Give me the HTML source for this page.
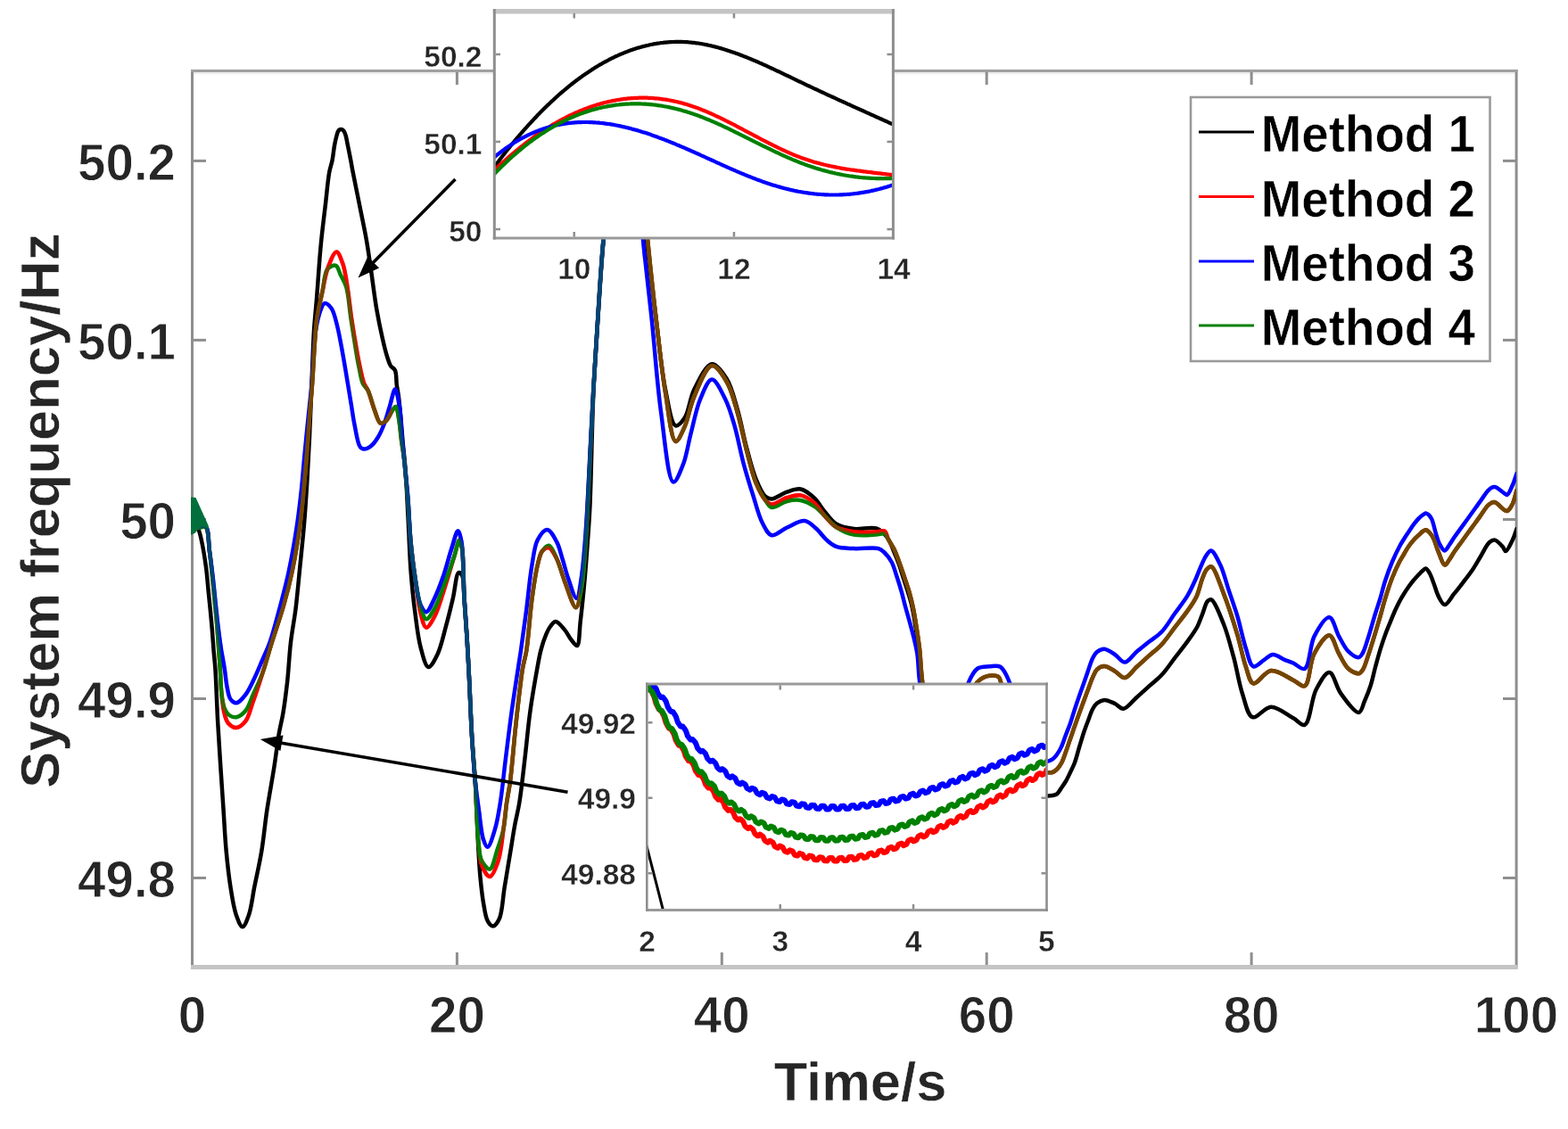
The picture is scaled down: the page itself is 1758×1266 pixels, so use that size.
<!DOCTYPE html><html><head><meta charset="utf-8"><title>System frequency</title>
<style>html,body{margin:0;padding:0;background:#fff;}svg{display:block;}text{font-family:'Liberation Sans', Arial, Helvetica, sans-serif;font-weight:bold;}</style></head><body>
<svg xmlns="http://www.w3.org/2000/svg" width="1758" height="1266" viewBox="0 0 1758 1266">
<rect x="0" y="0" width="1758" height="1266" fill="#fff"/>
<defs>
<clipPath id="cm"><rect x="214.0" y="79.5" width="1486.0" height="1005.0"/></clipPath>
<clipPath id="c1"><rect x="554.5" y="12.5" width="446.5" height="255"/></clipPath>
<clipPath id="c2"><rect x="725.5" y="767" width="448" height="253.5"/></clipPath>
<clipPath id="ovR"><rect x="250" y="0" width="190" height="1266"/><rect x="540" y="0" width="110" height="1266"/><rect x="721" y="0" width="1040" height="1266"/></clipPath>
<clipPath id="ovB"><rect x="200" y="0" width="50" height="1266"/><rect x="440" y="0" width="100" height="1266"/><rect x="650" y="0" width="71" height="1266"/></clipPath>
</defs>
<g fill="#8e8e8e">
<rect x="214" y="78.0" width="3" height="1008.0"/>
<rect x="1698.6" y="78.0" width="3" height="1008.0"/>
</g>
<rect x="214" y="77.9" width="1487.6" height="3.2" fill="#a0a0a0"/>
<rect x="217" y="81.1" width="1481" height="2.2" fill="#eeeeee"/>
<rect x="214" y="1082" width="1487.6" height="5" fill="#c4c4c4"/>
<g fill="#8e8e8e">
<rect x="217" y="178.9" width="14" height="3"/>
<rect x="1685" y="178.9" width="14" height="3"/>
<rect x="217" y="379.9" width="14" height="3"/>
<rect x="1685" y="379.9" width="14" height="3"/>
<rect x="217" y="581.0" width="14" height="3"/>
<rect x="1685" y="581.0" width="14" height="3"/>
<rect x="217" y="782.0" width="14" height="3"/>
<rect x="1685" y="782.0" width="14" height="3"/>
<rect x="217" y="983.0" width="14" height="3"/>
<rect x="1685" y="983.0" width="14" height="3"/>
<rect x="510.9" y="1068" width="3" height="14"/>
<rect x="510.9" y="81" width="3" height="14"/>
<rect x="807.8" y="1068" width="3" height="14"/>
<rect x="807.8" y="81" width="3" height="14"/>
<rect x="1104.7" y="1068" width="3" height="14"/>
<rect x="1104.7" y="81" width="3" height="14"/>
<rect x="1401.6" y="1068" width="3" height="14"/>
<rect x="1401.6" y="81" width="3" height="14"/>
</g>
<g clip-path="url(#cm)" fill="none" stroke-linejoin="round" stroke-linecap="round">
<path d="M215.5,590.0 C216.7,590.0 217.9,589.5 219.0,590.0 C220.3,590.6 221.6,592.2 222.6,594.2 C224.3,597.4 225.2,602.8 226.4,608.4 C228.1,616.2 229.8,627.3 231.1,636.8 C232.3,646.2 232.9,655.3 233.9,665.2 C235.0,676.2 236.3,688.8 237.3,700.0 C238.2,710.4 238.9,721.0 239.6,730.0 C240.2,737.3 240.8,741.5 241.4,750.0 C242.4,764.6 243.0,787.6 244.2,810.0 C245.8,838.6 248.7,880.7 250.5,907.4 C251.7,926.0 252.3,939.7 253.7,954.8 C255.0,968.6 256.4,981.9 258.4,994.3 C260.2,1005.5 261.9,1017.8 264.8,1025.9 C266.8,1031.5 269.5,1039.3 271.9,1039.3 C274.3,1039.3 277.0,1031.5 279.0,1025.9 C281.9,1017.8 283.1,1005.4 285.3,994.3 C287.8,981.9 290.9,968.6 293.2,954.8 C295.7,939.8 297.1,923.2 299.5,907.4 C301.9,891.6 305.1,874.9 307.4,860.0 C309.5,846.8 310.9,833.4 312.8,822.4 C314.3,813.8 316.0,808.0 317.4,799.6 C319.1,789.4 320.6,777.7 322.0,765.5 C323.6,751.4 324.3,734.5 326.0,720.0 C327.6,706.7 329.9,695.4 331.6,682.0 C333.4,667.1 334.8,650.6 336.4,634.8 C338.0,619.0 339.7,603.2 341.0,587.4 C342.3,571.6 343.3,556.0 344.3,540.0 C345.3,523.6 346.2,507.4 347.0,490.0 C347.9,470.9 348.7,449.9 349.5,430.0 C350.3,410.3 350.9,388.5 352.0,371.0 C352.9,356.9 354.2,346.1 355.2,333.0 C356.3,319.1 357.4,301.8 358.4,290.0 C359.1,281.7 359.5,276.9 360.3,268.9 C361.4,258.1 363.2,243.6 364.7,231.0 C366.2,218.4 367.5,202.5 369.2,193.2 C370.2,187.6 371.5,184.8 372.5,180.0 C373.6,174.5 374.2,167.1 375.2,162.0 C375.9,158.2 376.7,154.8 377.5,152.0 C378.1,149.9 378.5,147.7 379.5,146.5 C380.2,145.6 381.4,145.0 382.3,145.0 C383.3,145.0 384.4,145.6 385.2,146.5 C386.3,147.7 386.9,149.9 387.6,152.0 C388.5,154.8 388.9,158.2 389.7,162.0 C390.8,167.1 392.2,174.5 393.3,180.0 C394.2,184.7 394.6,187.7 395.7,193.2 C397.5,202.6 400.8,218.4 403.3,231.0 C405.8,243.6 408.7,256.7 410.8,268.9 C412.8,280.2 414.1,289.9 415.8,301.6 C417.8,315.2 419.8,332.3 422.1,345.8 C424.1,357.2 426.2,367.8 428.4,377.4 C430.2,385.6 432.2,394.0 434.1,400.0 C435.4,404.1 436.2,407.4 437.9,410.1 C439.3,412.3 441.7,412.7 442.9,415.2 C444.7,418.9 444.1,426.4 444.8,431.6 C445.5,436.3 446.3,439.8 447.0,445.0 C447.9,452.0 448.7,461.7 449.5,470.0 C450.2,478.3 450.8,486.7 451.5,495.0 C452.3,503.3 453.3,511.3 454.0,520.0 C454.8,529.5 455.4,539.3 456.0,550.0 C456.7,562.4 457.3,576.0 458.0,590.0 C458.8,605.5 459.3,622.8 460.5,639.0 C461.7,654.9 463.3,671.3 465.3,686.3 C467.1,700.1 468.6,714.7 471.6,725.8 C473.9,734.4 476.8,747.5 480.3,747.9 C483.3,748.3 487.6,739.7 490.5,733.7 C494.5,725.5 497.1,712.7 500.0,702.1 C502.9,691.6 505.5,680.8 507.9,670.5 C510.2,660.8 511.4,643.1 514.2,642.1 C515.3,641.7 517.0,643.2 518.0,645.0 C520.3,649.1 519.7,660.7 520.5,670.5 C521.6,683.9 522.8,702.7 523.7,718.0 C524.6,732.4 525.2,744.4 526.0,760.0 C527.0,779.5 527.9,805.3 529.1,825.8 C530.2,843.8 532.0,862.6 532.8,876.3 C533.4,885.7 533.5,890.7 533.9,900.0 C534.5,913.1 535.3,932.7 536.1,947.4 C536.8,960.1 537.4,971.6 538.4,982.9 C539.4,993.3 540.4,1003.7 542.0,1012.6 C543.3,1020.0 544.2,1028.2 546.7,1032.7 C548.3,1035.6 550.7,1038.7 552.7,1038.6 C555.0,1038.5 557.9,1034.4 559.8,1030.3 C563.3,1022.9 563.7,1006.6 565.7,994.8 C567.7,982.9 569.6,971.1 571.6,959.2 C573.6,947.4 575.5,934.3 577.5,923.7 C579.1,915.0 580.8,909.4 582.3,900.0 C584.5,886.6 586.5,867.5 588.4,851.0 C590.4,834.2 591.9,816.3 594.1,800.0 C596.1,785.0 598.7,769.8 601.0,756.9 C602.9,746.4 604.4,736.6 606.6,728.4 C608.3,721.9 610.3,716.1 612.3,711.4 C613.8,707.9 615.1,705.0 617.0,702.5 C618.7,700.3 620.7,697.0 623.0,697.0 C626.0,697.0 630.2,702.9 633.2,706.4 C636.1,709.9 638.1,714.7 640.7,717.8 C642.8,720.3 645.4,724.6 647.0,724.1 C649.8,723.1 649.5,707.0 650.8,696.3 C652.5,682.0 654.5,661.4 655.9,645.8 C657.1,632.3 657.9,620.5 658.8,607.9 C659.7,595.3 660.5,586.5 661.3,570.0 C662.8,539.2 663.6,478.3 665.5,437.0 C667.2,401.0 669.7,366.2 671.8,335.8 C673.5,310.8 674.4,293.4 676.8,267.6 C679.9,233.7 683.2,178.6 690.0,150.0 C694.1,132.8 700.9,109.6 705.0,110.0 C709.9,110.4 712.9,147.5 716.0,170.0 C719.9,198.5 721.3,235.5 724.7,267.6 C728.0,299.1 732.3,331.5 736.0,361.0 C739.4,387.6 741.7,415.8 746.1,437.0 C749.3,452.7 752.3,475.8 757.5,477.3 C760.5,478.2 764.8,472.7 767.8,468.2 C772.4,461.3 773.3,446.8 778.2,436.9 C783.3,426.7 791.5,408.8 798.2,408.2 C803.7,407.7 810.2,417.5 814.7,424.7 C820.4,433.7 823.3,447.2 826.9,459.5 C830.9,473.1 833.6,489.3 837.3,502.9 C840.6,515.2 843.7,528.0 847.7,537.7 C850.8,545.2 854.3,553.5 858.1,556.8 C860.3,558.7 862.3,559.5 865.1,559.4 C869.6,559.3 876.8,553.4 882.5,551.6 C887.6,549.9 892.8,547.6 897.7,548.5 C903.1,549.5 908.8,554.6 913.2,558.7 C917.6,562.8 920.2,568.4 924.2,573.1 C928.3,578.0 932.1,584.1 937.5,587.4 C943.1,590.8 950.3,592.1 957.4,593.0 C965.3,594.0 976.4,590.2 983.0,592.6 C988.2,594.5 991.8,598.8 995.0,603.0 C998.2,607.3 999.8,613.0 1002.0,618.0 C1004.2,623.0 1006.2,627.9 1008.0,633.0 C1009.8,638.1 1011.3,643.4 1013.0,648.6 C1014.7,653.8 1016.4,658.8 1018.0,664.0 C1019.6,669.3 1021.2,674.3 1022.5,680.2 C1024.1,687.1 1025.3,695.3 1026.5,703.0 C1027.8,711.0 1028.9,718.3 1030.0,727.5 C1031.3,739.1 1031.5,752.4 1033.5,767.0 C1036.0,785.6 1035.8,814.0 1045.0,830.0 C1052.8,843.6 1066.5,851.8 1080.0,860.0 C1094.6,868.8 1115.5,874.0 1130.0,880.0 C1141.3,884.7 1151.8,891.5 1160.0,893.0 C1165.2,894.0 1169.7,892.7 1173.4,892.5 C1176.0,892.4 1178.0,892.4 1180.0,892.0 C1181.8,891.6 1183.5,891.5 1185.0,890.4 C1186.9,889.0 1188.4,885.9 1190.0,883.5 C1191.7,881.1 1193.4,878.7 1195.0,876.0 C1196.8,873.0 1198.4,869.4 1200.0,866.0 C1201.7,862.4 1203.5,859.1 1205.0,855.0 C1206.9,850.0 1208.3,843.6 1210.0,838.0 C1211.7,832.5 1213.3,826.9 1215.0,821.7 C1216.6,816.9 1218.3,812.5 1220.0,808.0 C1221.6,803.7 1223.1,798.7 1225.0,795.2 C1226.5,792.5 1227.9,790.3 1230.0,788.6 C1232.2,786.8 1235.0,785.1 1238.0,784.9 C1241.6,784.7 1246.3,787.3 1250.0,789.0 C1253.4,790.6 1256.1,795.1 1259.5,794.8 C1264.0,794.4 1269.4,786.4 1274.2,782.2 C1279.0,778.0 1283.7,773.7 1288.4,769.4 C1293.2,765.1 1298.2,761.5 1302.7,756.6 C1307.7,751.2 1312.2,744.3 1316.9,738.1 C1321.6,731.9 1326.7,725.7 1331.1,719.6 C1335.2,713.9 1339.6,708.1 1342.5,702.5 C1345.0,697.7 1346.3,693.0 1348.2,688.3 C1350.1,683.6 1351.6,676.5 1353.9,674.1 C1355.1,672.8 1356.5,671.8 1358.0,672.3 C1361.9,673.7 1367.9,689.8 1372.0,700.0 C1376.6,711.5 1379.9,725.1 1383.4,737.9 C1386.9,751.0 1389.0,765.9 1392.9,777.7 C1396.2,787.6 1398.5,802.2 1404.3,804.2 C1409.6,806.0 1417.8,792.9 1425.1,792.8 C1433.0,792.7 1443.1,801.6 1450.0,805.3 C1455.0,808.0 1459.2,814.2 1462.8,812.8 C1468.9,810.5 1470.1,783.7 1475.6,773.3 C1479.8,765.3 1486.0,753.7 1490.5,754.1 C1495.3,754.5 1498.0,770.3 1503.3,777.6 C1508.9,785.3 1519.0,799.6 1523.6,798.9 C1526.8,798.4 1527.9,790.7 1530.0,786.0 C1532.3,780.7 1534.7,774.8 1536.7,768.7 C1538.8,762.2 1540.2,754.8 1542.0,748.0 C1543.8,741.4 1545.6,734.6 1547.5,728.4 C1549.3,722.7 1551.1,717.1 1553.0,712.0 C1554.7,707.3 1556.4,703.2 1558.2,698.8 C1559.9,694.5 1561.7,690.1 1563.5,686.0 C1565.3,682.1 1567.1,678.1 1569.0,674.6 C1570.6,671.5 1572.2,668.8 1574.0,666.0 C1575.8,663.1 1577.9,660.0 1579.8,657.3 C1581.5,654.9 1583.2,652.7 1585.0,650.5 C1586.8,648.3 1589.0,646.0 1590.8,644.1 C1592.3,642.6 1593.6,641.2 1595.0,640.0 C1596.2,639.0 1597.4,637.2 1598.6,637.4 C1600.1,637.6 1601.7,640.7 1603.0,643.0 C1604.7,646.0 1605.9,650.0 1607.4,654.0 C1609.2,658.6 1610.7,664.9 1613.0,669.1 C1614.9,672.7 1617.2,678.0 1619.8,678.1 C1622.8,678.2 1626.7,670.3 1630.0,666.2 C1633.4,662.1 1636.7,657.8 1640.0,653.5 C1643.4,649.2 1646.8,645.0 1650.0,640.3 C1653.5,635.2 1656.7,629.4 1660.0,624.0 C1663.3,618.6 1666.6,610.8 1670.0,608.0 C1672.0,606.3 1674.0,605.2 1676.1,605.6 C1679.0,606.1 1683.0,611.2 1685.1,613.6 C1686.5,615.2 1686.9,618.1 1688.1,618.1 C1690.1,618.1 1693.5,610.3 1695.6,606.1 C1697.7,601.9 1698.9,597.4 1700.5,593.0" stroke="#000" stroke-width="4.5"/>
<path d="M215.5,592.0 C217.7,592.0 219.7,592.1 222.0,592.0 C224.6,591.8 228.4,589.4 230.5,591.0 C234.3,593.8 233.7,608.9 234.9,618.0 C236.2,627.2 237.0,636.6 238.0,646.0 C239.0,655.5 239.9,665.4 240.8,674.7 C241.6,683.4 242.5,691.2 243.2,700.0 C244.0,709.6 244.6,721.0 245.3,730.0 C245.8,737.3 246.3,742.7 246.8,750.0 C247.4,759.0 247.6,771.0 248.5,780.0 C249.3,787.4 250.0,794.4 251.5,800.0 C252.7,804.3 253.6,808.3 256.0,811.0 C258.2,813.5 262.0,816.2 265.0,816.0 C268.4,815.8 272.5,812.3 275.3,808.7 C279.0,803.9 280.5,795.8 283.3,788.0 C286.9,778.1 291.0,765.4 294.6,754.0 C298.2,742.7 301.2,731.8 304.9,720.0 C309.0,707.0 314.2,692.5 318.0,679.0 C321.7,666.2 324.6,654.8 327.5,641.0 C330.9,624.7 334.3,603.7 336.5,587.4 C338.4,573.8 339.3,562.3 340.5,550.0 C341.6,538.1 342.6,526.6 343.5,515.0 C344.4,503.6 345.2,491.5 346.0,480.9 C346.7,471.7 347.3,463.6 348.0,455.0 C348.7,446.6 349.3,440.5 350.1,430.0 C351.5,412.3 352.6,377.4 355.2,358.4 C356.9,345.7 359.4,336.7 361.5,326.8 C363.4,317.9 364.4,309.2 367.2,301.6 C369.8,294.6 374.2,282.6 377.3,282.6 C379.8,282.6 382.3,290.2 384.2,295.3 C386.7,302.1 387.8,311.2 389.3,320.5 C391.2,331.8 392.4,345.8 394.3,358.4 C396.2,371.0 398.8,386.3 400.6,396.3 C401.8,402.9 402.6,407.1 403.8,412.6 C405.1,418.3 406.4,425.4 408.2,430.0 C409.5,433.2 411.1,434.5 412.6,437.9 C415.0,443.4 417.6,454.0 420.2,460.6 C422.3,465.9 423.8,473.4 426.5,474.5 C428.3,475.2 430.9,473.6 432.8,472.0 C435.7,469.6 438.2,462.2 440.4,459.4 C441.6,457.8 442.8,455.7 443.8,456.0 C445.6,456.5 446.5,466.2 447.5,472.0 C448.7,478.9 449.2,487.7 450.2,495.0 C451.1,501.6 452.2,507.2 453.0,514.0 C453.9,521.8 454.6,531.0 455.3,539.0 C456.0,546.3 456.6,551.6 457.3,560.0 C458.3,572.6 459.1,592.3 460.5,607.4 C461.8,621.2 463.5,633.5 465.3,646.8 C467.2,660.4 468.8,677.6 471.6,688.0 C473.4,694.6 475.2,703.3 477.9,703.7 C480.5,704.0 484.4,696.6 487.4,691.0 C492.0,682.3 496.2,666.4 500.0,654.7 C503.5,643.9 506.7,632.1 509.5,623.2 C511.6,616.5 513.4,605.8 515.0,605.8 C516.1,605.8 517.2,610.6 518.0,615.0 C519.9,625.6 519.5,652.7 520.5,670.5 C521.4,687.0 522.8,702.7 523.7,718.0 C524.6,732.4 525.2,744.4 526.0,760.0 C527.0,779.5 527.9,805.3 529.1,825.8 C530.2,843.8 531.9,861.2 532.8,876.3 C533.6,888.7 533.9,898.7 534.5,910.0 C535.1,921.6 535.5,934.3 536.5,945.0 C537.4,954.1 537.4,963.3 540.0,970.0 C542.1,975.3 546.2,983.2 549.1,983.0 C552.4,982.8 556.2,972.4 558.6,965.2 C561.9,955.6 562.9,940.9 564.5,929.6 C566.0,919.3 566.8,909.3 568.1,900.0 C569.3,891.6 570.7,886.1 572.0,876.3 C574.1,860.3 576.0,834.2 578.3,813.2 C580.6,792.1 583.4,765.1 585.9,750.0 C587.3,741.4 588.8,738.5 590.2,730.0 C592.5,715.6 594.1,688.5 596.5,671.0 C598.4,657.0 600.4,642.9 602.8,633.2 C604.4,626.9 605.2,621.1 607.9,618.0 C609.9,615.7 613.1,613.6 615.5,614.2 C618.7,615.0 621.7,621.7 624.3,626.8 C627.8,633.6 629.8,643.4 633.2,652.1 C636.9,661.5 642.5,681.4 645.8,681.2 C648.6,681.0 650.5,667.1 652.1,658.4 C654.2,647.3 654.8,633.7 655.9,620.0 C657.1,604.4 657.7,590.7 658.8,570.0 C660.6,536.3 663.0,478.3 665.3,437.0 C667.3,401.0 669.5,366.2 671.6,335.8 C673.3,310.8 674.2,293.4 676.6,267.6 C679.8,233.7 683.1,178.6 690.0,150.0 C694.1,132.8 700.8,109.7 705.0,110.0 C710.1,110.4 713.7,147.5 717.0,170.0 C721.2,198.5 722.8,235.4 726.0,267.6 C729.1,299.1 732.5,331.2 736.0,361.0 C739.2,388.5 742.0,416.1 746.0,440.0 C749.4,460.1 752.5,494.1 757.5,495.0 C760.5,495.5 764.7,484.8 767.8,478.0 C771.9,469.0 773.4,455.9 778.2,445.0 C783.3,433.2 791.3,410.8 798.2,410.0 C803.6,409.4 810.2,420.4 814.7,428.0 C820.3,437.3 823.3,450.6 826.9,463.0 C830.9,476.5 833.7,492.3 837.3,506.0 C840.6,518.6 843.6,532.1 847.7,542.0 C850.8,549.5 854.4,557.1 858.1,561.0 C860.4,563.4 862.2,565.3 865.1,565.5 C869.5,565.9 876.8,559.7 882.5,558.0 C887.6,556.5 892.8,554.5 897.7,555.4 C903.0,556.3 908.8,560.4 913.2,564.2 C917.6,568.0 920.2,573.6 924.2,578.0 C928.3,582.5 932.2,588.0 937.5,591.0 C943.1,594.2 950.4,595.3 957.4,596.3 C965.1,597.4 975.7,596.9 982.0,596.6 C986.0,596.4 989.4,594.2 991.7,595.5 C994.1,596.9 994.3,601.7 996.0,605.0 C998.0,608.8 1000.9,612.6 1003.0,617.0 C1005.4,622.1 1007.5,628.5 1009.5,634.0 C1011.3,639.0 1012.9,643.7 1014.5,648.6 C1016.2,653.7 1018.0,658.8 1019.5,664.0 C1021.0,669.3 1022.3,674.3 1023.5,680.2 C1025.0,687.1 1026.3,695.3 1027.5,703.0 C1028.8,711.0 1029.9,718.3 1031.0,727.5 C1032.3,739.1 1032.5,752.9 1034.5,767.0 C1036.8,783.4 1037.0,808.6 1045.0,820.0 C1050.9,828.4 1063.3,837.3 1070.0,835.0 C1078.7,832.1 1083.8,802.6 1088.0,790.0 C1090.9,781.2 1090.3,772.6 1094.0,767.2 C1097.0,762.9 1101.7,759.6 1106.1,758.3 C1110.2,757.0 1116.7,757.0 1119.4,758.9 C1121.6,760.5 1121.3,763.1 1122.7,767.2 C1126.4,778.3 1132.5,813.0 1140.0,830.0 C1145.7,842.9 1152.9,856.6 1160.0,862.0 C1164.3,865.3 1169.7,865.5 1173.4,866.0 C1176.0,866.4 1178.0,866.6 1180.0,866.0 C1181.9,865.4 1183.5,864.1 1185.0,862.6 C1186.8,860.8 1188.5,858.5 1190.0,855.7 C1191.9,852.2 1193.4,847.4 1195.0,843.0 C1196.7,838.4 1198.3,833.4 1200.0,828.6 C1201.7,823.8 1203.3,818.8 1205.0,814.0 C1206.7,809.3 1208.3,804.6 1210.0,800.0 C1211.7,795.4 1213.3,790.9 1215.0,786.4 C1216.7,781.9 1218.3,777.4 1220.0,773.0 C1221.7,768.6 1223.2,763.7 1225.0,759.8 C1226.6,756.4 1227.7,752.9 1230.0,750.7 C1232.1,748.7 1235.1,747.0 1238.0,747.0 C1241.6,747.0 1246.2,750.4 1250.0,752.6 C1253.9,754.8 1257.4,760.3 1261.1,760.0 C1265.4,759.7 1269.7,752.1 1274.2,748.0 C1278.8,743.8 1283.7,739.5 1288.4,735.2 C1293.2,730.9 1298.2,727.3 1302.7,722.4 C1307.7,717.0 1312.2,710.1 1316.9,703.9 C1321.6,697.7 1326.9,691.4 1331.1,685.4 C1334.9,680.1 1338.3,675.6 1341.1,669.8 C1344.2,663.4 1345.9,654.1 1348.2,648.4 C1349.8,644.4 1351.0,640.7 1353.0,638.5 C1354.5,636.9 1356.2,634.8 1358.0,635.3 C1362.2,636.5 1367.5,654.5 1372.0,665.8 C1377.3,679.3 1382.9,697.0 1387.2,711.3 C1391.0,723.9 1393.2,737.3 1396.7,747.3 C1399.3,754.8 1400.8,765.1 1405.2,766.3 C1410.0,767.6 1417.9,752.9 1425.1,752.1 C1432.7,751.3 1443.1,759.5 1450.0,762.7 C1455.0,765.0 1459.3,770.6 1462.8,769.1 C1468.4,766.7 1468.2,742.9 1473.5,733.0 C1477.9,724.7 1485.8,712.0 1490.5,712.5 C1494.9,713.0 1497.5,726.6 1501.2,733.0 C1504.6,739.0 1507.6,746.3 1511.9,750.0 C1515.3,753.0 1520.7,755.7 1523.6,755.2 C1525.6,754.9 1526.6,753.1 1528.0,751.0 C1530.3,747.5 1531.9,741.0 1534.0,735.0 C1536.6,727.5 1539.6,717.4 1542.0,709.6 C1544.0,702.9 1545.7,697.2 1547.5,691.0 C1549.3,684.7 1550.7,678.7 1552.8,672.0 C1555.1,664.4 1558.0,655.4 1560.9,648.0 C1563.5,641.5 1566.5,634.8 1569.0,630.0 C1570.8,626.6 1572.3,624.4 1574.0,621.5 C1575.8,618.4 1577.8,614.8 1579.8,612.0 C1581.5,609.6 1583.2,607.5 1585.0,605.5 C1586.8,603.5 1589.0,601.5 1590.8,599.8 C1592.3,598.4 1593.6,596.9 1595.0,596.0 C1596.2,595.2 1597.4,594.2 1598.6,594.3 C1600.0,594.4 1601.7,596.1 1603.0,597.5 C1604.6,599.2 1606.1,601.5 1607.4,604.2 C1609.1,607.7 1610.1,612.5 1612.0,617.0 C1614.2,622.2 1617.4,633.2 1620.0,633.5 C1621.7,633.7 1623.4,629.7 1625.0,627.5 C1626.8,625.1 1628.0,622.5 1630.0,619.5 C1632.7,615.5 1636.7,610.3 1640.0,605.7 C1643.3,601.1 1646.7,596.5 1650.0,591.9 C1653.3,587.3 1656.9,582.5 1660.0,578.1 C1662.8,574.2 1665.6,569.4 1668.0,567.0 C1669.4,565.5 1670.6,564.6 1672.0,564.0 C1673.3,563.4 1674.4,562.8 1676.1,563.2 C1679.4,563.9 1686.2,573.5 1689.6,573.0 C1692.2,572.6 1693.9,568.6 1695.6,565.5 C1697.8,561.4 1698.9,555.2 1700.5,550.0" stroke="#ff0000" stroke-width="4.5"/>
<path d="M215.5,592.0 C217.7,591.7 219.7,591.3 222.0,591.0 C224.6,590.6 228.4,588.4 230.5,590.0 C234.3,592.9 233.6,608.6 234.9,617.9 C236.2,627.2 237.4,636.6 238.5,646.0 C239.6,655.5 240.5,665.4 241.5,674.7 C242.4,683.4 243.2,691.6 244.2,700.0 C245.2,708.4 246.2,716.7 247.5,725.0 C248.8,733.3 250.6,742.1 251.8,750.0 C252.9,757.0 253.3,764.0 254.5,770.0 C255.6,775.1 256.1,780.9 258.4,784.0 C260.1,786.3 262.6,788.5 265.0,788.3 C268.1,788.1 272.2,783.0 275.3,779.0 C279.2,774.0 282.4,766.5 285.5,760.0 C288.7,753.5 291.3,746.7 294.2,740.0 C297.0,733.3 299.8,727.9 302.6,720.0 C306.5,708.9 310.7,692.4 314.3,679.0 C317.7,666.1 320.8,654.8 323.7,641.0 C327.2,624.7 330.8,603.7 333.2,587.4 C335.2,573.8 336.5,562.3 337.8,550.0 C339.1,538.1 339.9,526.6 341.0,515.0 C342.1,503.6 343.2,491.5 344.3,480.9 C345.2,471.7 346.1,463.6 347.0,455.0 C347.9,446.6 348.6,440.1 349.5,430.0 C350.9,414.5 351.4,386.5 353.9,371.0 C355.6,360.8 357.9,351.1 360.2,345.8 C361.4,343.1 362.3,340.4 364.0,340.1 C366.0,339.8 369.5,342.9 371.6,345.8 C374.6,350.0 376.0,357.5 377.9,364.7 C380.3,373.8 382.2,385.6 384.2,396.3 C386.2,407.3 388.2,419.6 389.9,430.0 C391.4,439.0 392.7,447.0 394.0,455.0 C395.2,462.3 395.9,468.6 397.4,475.8 C399.1,483.8 400.7,497.1 403.7,501.0 C405.0,502.8 406.5,503.5 408.2,503.6 C410.5,503.7 413.9,501.8 416.4,499.8 C419.3,497.5 421.7,493.7 424.0,490.0 C426.5,485.9 428.5,481.1 430.5,476.0 C432.8,470.2 434.5,463.3 436.6,456.8 C438.7,450.2 441.1,436.5 443.0,436.6 C444.9,436.7 446.8,449.3 448.0,456.8 C449.5,466.1 449.6,478.5 450.5,488.4 C451.3,497.3 452.2,505.3 453.0,513.7 C453.9,522.1 454.8,531.0 455.6,539.0 C456.3,546.3 456.9,551.6 457.5,560.0 C458.5,572.6 459.1,592.3 460.5,607.4 C461.8,621.2 463.3,634.4 465.3,646.8 C467.1,657.9 468.4,671.6 471.6,678.4 C473.4,682.2 475.7,686.4 477.9,686.3 C480.9,686.1 484.5,676.4 487.4,670.5 C490.9,663.5 493.8,655.3 496.8,646.8 C500.2,637.1 503.2,624.6 506.3,615.3 C508.7,607.9 511.4,595.5 513.4,595.5 C514.9,595.5 516.3,601.8 517.4,607.4 C519.8,620.0 519.4,651.0 520.5,670.5 C521.5,687.5 522.8,702.7 523.7,718.0 C524.6,732.4 525.2,744.4 526.0,760.0 C527.0,779.5 527.9,805.3 529.1,825.8 C530.2,843.8 531.3,861.0 532.8,876.3 C534.1,889.2 535.7,900.5 537.3,911.8 C538.8,922.2 539.7,934.8 542.0,941.5 C543.3,945.3 545.0,949.9 546.7,949.8 C549.2,949.6 552.7,937.1 555.0,929.6 C557.7,920.8 559.1,911.1 560.9,900.0 C563.2,885.8 564.8,867.5 566.9,851.0 C569.0,834.3 571.0,817.3 573.3,800.5 C575.6,783.7 578.8,763.0 580.8,750.0 C582.0,741.8 582.7,738.1 583.9,730.0 C585.7,717.8 588.1,699.5 590.2,683.7 C592.3,667.2 594.0,647.5 596.5,633.2 C598.4,622.5 599.1,612.3 602.8,605.4 C605.5,600.3 610.1,593.8 613.6,594.0 C617.3,594.2 621.5,602.6 624.3,607.9 C627.3,613.5 628.5,620.3 630.6,626.8 C632.8,633.7 634.4,641.1 637.0,648.3 C639.7,655.8 643.9,671.2 646.4,671.0 C649.0,670.8 650.6,655.1 652.1,645.8 C653.9,634.5 654.8,620.5 655.9,607.9 C656.9,595.3 657.4,586.5 658.4,570.0 C660.2,539.1 662.9,478.3 665.3,437.0 C667.4,401.0 669.5,366.2 671.6,335.8 C673.3,310.8 674.2,293.4 676.6,267.6 C679.8,233.7 683.1,178.6 690.0,150.0 C694.1,132.8 701.3,109.6 705.0,110.0 C709.5,110.5 710.6,147.5 713.0,170.0 C716.1,198.6 717.9,235.4 720.9,267.6 C723.9,299.1 727.7,329.2 731.0,361.0 C734.4,394.1 736.7,430.7 741.1,462.2 C745.0,490.1 748.9,539.5 755.0,540.5 C758.3,541.0 763.0,528.2 766.1,520.3 C769.9,510.5 771.6,497.3 774.7,485.5 C778.0,473.0 780.6,458.0 785.2,447.3 C788.9,438.8 793.6,425.7 798.2,425.6 C802.9,425.5 808.9,439.2 813.0,447.3 C817.5,456.1 820.2,466.0 823.4,476.9 C827.2,489.9 830.1,506.7 833.8,520.3 C837.1,532.6 840.6,543.8 844.2,555.0 C847.6,565.7 850.5,578.2 854.7,586.3 C857.8,592.2 860.7,599.1 865.1,600.2 C869.8,601.3 876.5,594.1 882.5,591.5 C888.8,588.8 896.3,583.4 902.1,584.1 C907.1,584.7 911.4,589.5 915.4,593.0 C919.5,596.5 922.5,601.7 926.4,605.1 C929.9,608.2 933.0,611.2 937.5,612.9 C943.0,615.0 950.2,614.7 957.4,615.1 C965.8,615.6 979.3,613.4 985.0,615.1 C987.9,616.0 989.0,617.1 991.0,619.0 C993.8,621.6 997.2,625.9 999.5,630.0 C1002.0,634.4 1003.2,639.7 1005.0,645.0 C1007.0,651.0 1009.3,658.3 1011.0,664.4 C1012.5,669.9 1013.6,674.8 1015.0,680.0 C1016.4,685.3 1018.0,690.4 1019.5,696.0 C1021.1,702.1 1023.0,708.7 1024.5,715.0 C1026.0,721.3 1027.4,726.7 1028.5,733.9 C1029.9,743.4 1029.4,754.8 1031.5,767.0 C1034.2,782.7 1036.9,809.9 1045.0,820.0 C1050.2,826.4 1059.6,832.1 1065.0,830.0 C1072.4,827.1 1076.6,801.6 1080.0,790.0 C1082.5,781.4 1082.3,774.1 1085.1,767.2 C1087.8,760.7 1091.5,752.6 1096.2,749.5 C1100.0,747.0 1105.1,747.6 1109.4,747.3 C1113.5,747.0 1118.1,745.7 1121.6,747.8 C1126.3,750.7 1129.1,758.6 1132.7,767.2 C1138.8,781.9 1143.0,814.8 1150.0,830.0 C1154.5,839.7 1160.0,848.6 1165.0,852.0 C1167.8,853.9 1170.8,854.1 1173.4,853.9 C1175.8,853.7 1178.1,852.6 1180.0,851.3 C1182.0,850.0 1183.4,848.1 1185.0,846.0 C1186.8,843.6 1188.5,840.7 1190.0,837.4 C1191.8,833.5 1193.3,828.4 1195.0,824.0 C1196.7,819.6 1198.4,815.6 1200.0,811.0 C1201.7,806.0 1203.3,800.4 1205.0,795.2 C1206.6,790.2 1208.3,785.3 1210.0,780.5 C1211.6,775.8 1213.3,771.2 1215.0,766.5 C1216.7,761.7 1218.3,756.8 1220.0,752.0 C1221.6,747.3 1223.1,742.0 1225.0,738.2 C1226.5,735.3 1227.8,732.8 1230.0,731.0 C1232.2,729.3 1235.1,727.6 1238.0,727.7 C1241.6,727.9 1246.2,731.5 1250.0,734.0 C1253.9,736.5 1257.3,742.7 1261.1,742.6 C1265.3,742.5 1269.7,734.8 1274.2,731.0 C1278.8,727.1 1283.7,723.4 1288.4,719.6 C1293.2,715.8 1298.2,712.9 1302.7,708.2 C1307.9,702.8 1312.2,694.9 1316.9,688.3 C1321.6,681.7 1327.2,674.9 1331.1,668.4 C1334.6,662.6 1337.1,657.0 1339.7,651.3 C1342.3,645.6 1344.5,639.3 1346.8,634.2 C1348.7,630.0 1350.4,625.8 1352.5,622.8 C1354.1,620.5 1355.9,617.3 1357.8,617.5 C1360.9,617.8 1365.1,627.3 1368.2,633.6 C1372.0,641.5 1374.5,652.5 1377.7,662.0 C1380.9,671.5 1384.2,680.4 1387.2,690.5 C1390.6,701.7 1393.3,716.2 1396.7,726.5 C1399.4,734.5 1401.1,746.0 1405.2,747.3 C1408.5,748.4 1413.7,742.1 1417.5,739.8 C1420.9,737.8 1423.5,734.3 1427.0,734.1 C1431.0,733.8 1436.2,738.1 1440.3,739.8 C1443.8,741.2 1446.6,742.0 1450.0,743.5 C1454.0,745.3 1459.3,751.4 1462.8,749.9 C1468.5,747.4 1468.3,723.7 1473.5,713.6 C1478.0,705.0 1485.8,691.8 1490.5,692.3 C1494.9,692.8 1497.5,707.0 1501.2,713.6 C1504.6,719.7 1507.7,726.7 1511.9,730.7 C1515.4,734.0 1520.8,737.6 1523.6,737.1 C1525.6,736.7 1526.6,734.4 1528.0,732.0 C1530.2,728.1 1531.9,721.3 1534.0,715.0 C1536.6,707.1 1539.5,696.0 1542.0,688.0 C1544.0,681.7 1545.7,676.8 1547.5,671.0 C1549.3,664.9 1550.7,658.5 1552.8,652.0 C1555.1,644.9 1558.0,636.8 1560.9,630.0 C1563.5,623.9 1566.5,617.7 1569.0,613.0 C1570.8,609.5 1572.4,607.1 1574.2,604.2 C1576.0,601.3 1578.1,598.3 1580.0,595.5 C1581.8,592.8 1583.4,590.2 1585.3,587.7 C1587.1,585.3 1589.0,582.9 1591.0,581.0 C1592.7,579.3 1595.0,577.5 1596.4,576.6 C1597.3,576.0 1597.8,575.5 1598.6,575.5 C1599.6,575.5 1601.0,576.6 1602.0,577.5 C1603.2,578.6 1604.2,580.0 1605.2,582.1 C1607.0,585.8 1608.4,593.7 1610.0,598.7 C1611.3,602.8 1612.2,606.7 1614.0,610.0 C1615.6,612.9 1617.9,617.5 1619.8,617.5 C1621.6,617.5 1623.3,613.3 1625.0,611.0 C1626.7,608.6 1628.0,606.2 1630.0,603.3 C1632.7,599.3 1636.7,594.0 1640.0,589.4 C1643.3,584.8 1646.7,580.1 1650.0,575.5 C1653.3,570.9 1656.9,566.0 1660.0,561.6 C1662.8,557.7 1665.7,553.1 1668.0,550.5 C1669.5,548.9 1670.6,547.7 1672.0,547.0 C1673.3,546.3 1674.5,545.7 1676.1,546.0 C1678.6,546.4 1682.6,550.3 1685.1,552.0 C1686.9,553.2 1688.2,555.3 1689.6,555.0 C1691.7,554.5 1693.8,548.3 1695.6,544.5 C1697.5,540.4 1698.9,535.5 1700.5,531.0" stroke="#0000ff" stroke-width="4.5"/>
<path d="M215.5,592.0 C217.7,592.0 219.7,592.1 222.0,592.0 C224.6,591.8 228.4,589.4 230.5,591.0 C234.3,593.8 233.7,608.9 234.9,618.0 C236.2,627.2 237.0,636.6 238.0,646.0 C239.0,655.5 239.9,665.4 240.8,674.7 C241.6,683.4 242.4,690.1 243.2,700.0 C244.4,713.8 245.9,735.7 246.8,750.0 C247.5,760.7 247.4,769.9 248.5,778.0 C249.3,784.4 250.1,790.7 252.0,795.0 C253.3,798.0 254.8,800.5 257.0,802.0 C259.2,803.5 262.3,804.7 265.0,804.2 C268.3,803.6 272.4,800.4 275.3,797.0 C278.8,792.8 280.5,786.3 283.3,780.0 C286.8,772.3 291.2,763.4 294.6,754.0 C298.4,743.5 301.2,731.8 304.9,720.0 C309.0,707.0 314.2,692.5 318.0,679.0 C321.7,666.2 324.6,654.8 327.5,641.0 C330.9,624.7 334.3,603.7 336.5,587.4 C338.4,573.8 339.3,562.3 340.5,550.0 C341.6,538.1 342.6,526.6 343.5,515.0 C344.4,503.6 345.2,491.5 346.0,480.9 C346.7,471.7 347.3,463.6 348.0,455.0 C348.7,446.6 349.3,440.5 350.1,430.0 C351.5,412.3 352.6,377.4 355.2,358.4 C356.9,345.7 359.4,336.7 361.5,326.8 C363.4,317.9 363.4,306.1 367.2,301.6 C369.6,298.8 374.2,296.9 376.6,297.8 C379.1,298.7 379.9,304.2 381.7,307.9 C383.8,312.2 386.5,316.0 388.3,322.0 C391.0,331.2 391.7,346.2 393.6,358.4 C395.5,370.9 397.9,386.3 399.6,396.3 C400.7,402.9 401.4,407.1 402.6,412.6 C403.8,418.3 404.7,425.5 406.8,430.0 C408.4,433.3 410.8,434.4 412.6,437.9 C415.4,443.4 417.6,454.0 420.2,460.6 C422.3,465.9 423.8,473.4 426.5,474.5 C428.3,475.2 430.9,473.6 432.8,472.0 C435.7,469.6 438.2,462.2 440.4,459.4 C441.6,457.8 442.8,455.7 443.8,456.0 C445.6,456.5 446.5,466.2 447.5,472.0 C448.7,478.9 449.2,487.7 450.2,495.0 C451.1,501.6 452.2,507.2 453.0,514.0 C453.9,521.8 454.6,531.0 455.3,539.0 C456.0,546.3 456.6,551.6 457.3,560.0 C458.3,572.6 459.1,592.3 460.5,607.4 C461.8,621.2 463.3,634.3 465.3,646.8 C467.1,658.4 468.9,671.4 471.6,680.0 C473.4,685.9 475.3,693.9 477.9,694.2 C480.5,694.5 484.4,687.3 487.4,682.0 C491.9,674.1 496.2,660.2 500.0,650.0 C503.5,640.7 506.8,631.2 509.5,623.2 C511.6,616.8 513.4,605.8 515.0,605.8 C516.1,605.8 517.2,610.6 518.0,615.0 C519.9,625.6 519.5,652.7 520.5,670.5 C521.4,687.0 522.8,702.7 523.7,718.0 C524.6,732.4 525.2,744.4 526.0,760.0 C527.0,779.5 527.9,805.3 529.1,825.8 C530.2,843.8 531.9,861.2 532.8,876.3 C533.6,888.7 533.9,898.7 534.5,910.0 C535.1,921.6 535.3,935.0 536.5,945.0 C537.4,952.6 537.4,959.8 540.0,965.0 C542.1,969.2 546.5,975.1 549.1,974.6 C552.6,973.9 554.9,960.6 557.4,953.3 C560.0,945.7 562.7,938.0 564.5,929.6 C566.4,920.4 566.8,909.3 568.1,900.0 C569.3,891.6 570.7,886.1 572.0,876.3 C574.1,860.3 576.0,834.2 578.3,813.2 C580.6,792.1 583.4,765.1 585.9,750.0 C587.3,741.4 588.8,738.5 590.2,730.0 C592.5,715.6 594.1,688.5 596.5,671.0 C598.4,657.0 600.4,642.9 602.8,633.2 C604.4,626.9 605.3,621.7 607.9,618.0 C609.9,615.1 613.1,611.3 615.5,611.7 C618.7,612.3 621.6,621.0 624.3,626.8 C627.6,634.0 629.8,643.4 633.2,652.1 C636.9,661.5 642.5,681.4 645.8,681.2 C648.6,681.0 650.5,667.1 652.1,658.4 C654.2,647.3 654.8,633.7 655.9,620.0 C657.1,604.4 657.7,590.7 658.8,570.0 C660.6,536.3 663.0,478.3 665.3,437.0 C667.3,401.0 669.5,366.2 671.6,335.8 C673.3,310.8 674.2,293.4 676.6,267.6 C679.8,233.7 683.1,178.6 690.0,150.0 C694.1,132.8 700.8,109.7 705.0,110.0 C710.1,110.4 713.7,147.5 717.0,170.0 C721.2,198.5 722.8,235.4 726.0,267.6 C729.1,299.1 732.5,331.2 736.0,361.0 C739.2,388.5 742.0,416.1 746.0,440.0 C749.4,460.1 752.5,494.1 757.5,495.0 C760.5,495.5 764.7,484.8 767.8,478.0 C771.9,469.0 773.4,455.9 778.2,445.0 C783.3,433.2 791.3,410.8 798.2,410.0 C803.6,409.4 810.2,420.4 814.7,428.0 C820.3,437.3 823.3,450.6 826.9,463.0 C830.9,476.5 833.7,492.3 837.3,506.0 C840.6,518.6 843.6,532.1 847.7,542.0 C850.8,549.5 854.7,556.2 858.1,561.0 C860.5,564.4 861.9,568.2 865.1,569.0 C869.4,570.0 876.8,563.3 882.5,562.0 C887.6,560.8 892.7,560.1 897.7,561.0 C903.0,562.0 908.7,565.0 913.2,568.0 C917.4,570.8 920.4,574.4 924.2,578.0 C928.5,582.0 932.2,587.5 937.5,591.0 C943.2,594.8 950.3,598.1 957.4,599.6 C965.0,601.2 975.7,600.0 982.0,599.6 C986.0,599.4 989.3,597.4 991.7,598.5 C993.8,599.5 994.4,602.5 996.0,605.0 C998.1,608.4 1000.9,612.6 1003.0,617.0 C1005.4,622.1 1007.5,628.5 1009.5,634.0 C1011.3,639.0 1012.9,643.7 1014.5,648.6 C1016.2,653.7 1018.0,658.8 1019.5,664.0 C1021.0,669.3 1022.3,674.3 1023.5,680.2 C1025.0,687.1 1026.3,695.3 1027.5,703.0 C1028.8,711.0 1029.9,718.3 1031.0,727.5 C1032.3,739.1 1032.5,752.9 1034.5,767.0 C1036.8,783.4 1037.0,808.6 1045.0,820.0 C1050.9,828.4 1063.3,837.3 1070.0,835.0 C1078.7,832.1 1083.8,802.6 1088.0,790.0 C1090.9,781.2 1090.3,772.6 1094.0,767.2 C1097.0,762.9 1101.7,759.6 1106.1,758.3 C1110.2,757.0 1116.7,757.0 1119.4,758.9 C1121.6,760.5 1121.3,763.1 1122.7,767.2 C1126.4,778.3 1132.5,813.0 1140.0,830.0 C1145.7,842.9 1152.9,856.6 1160.0,862.0 C1164.3,865.3 1169.7,865.5 1173.4,866.0 C1176.0,866.4 1178.0,866.6 1180.0,866.0 C1181.9,865.4 1183.5,864.1 1185.0,862.6 C1186.8,860.8 1188.5,858.5 1190.0,855.7 C1191.9,852.2 1193.4,847.4 1195.0,843.0 C1196.7,838.4 1198.3,833.4 1200.0,828.6 C1201.7,823.8 1203.3,818.8 1205.0,814.0 C1206.7,809.3 1208.3,804.6 1210.0,800.0 C1211.7,795.4 1213.3,790.9 1215.0,786.4 C1216.7,781.9 1218.3,777.4 1220.0,773.0 C1221.7,768.6 1223.2,763.7 1225.0,759.8 C1226.6,756.4 1227.7,752.9 1230.0,750.7 C1232.1,748.7 1235.1,747.0 1238.0,747.0 C1241.6,747.0 1246.2,750.4 1250.0,752.6 C1253.9,754.8 1257.4,760.3 1261.1,760.0 C1265.4,759.7 1269.7,752.1 1274.2,748.0 C1278.8,743.8 1283.7,739.5 1288.4,735.2 C1293.2,730.9 1298.2,727.3 1302.7,722.4 C1307.7,717.0 1312.2,710.1 1316.9,703.9 C1321.6,697.7 1326.9,691.4 1331.1,685.4 C1334.9,680.1 1338.3,675.6 1341.1,669.8 C1344.2,663.4 1345.9,654.1 1348.2,648.4 C1349.8,644.4 1351.0,640.7 1353.0,638.5 C1354.5,636.9 1356.2,634.8 1358.0,635.3 C1362.2,636.5 1367.5,654.5 1372.0,665.8 C1377.3,679.3 1382.9,697.0 1387.2,711.3 C1391.0,723.9 1393.2,737.3 1396.7,747.3 C1399.3,754.8 1400.8,765.1 1405.2,766.3 C1410.0,767.6 1417.9,752.9 1425.1,752.1 C1432.7,751.3 1443.1,759.5 1450.0,762.7 C1455.0,765.0 1459.3,770.6 1462.8,769.1 C1468.4,766.7 1468.2,742.9 1473.5,733.0 C1477.9,724.7 1485.8,712.0 1490.5,712.5 C1494.9,713.0 1497.5,726.6 1501.2,733.0 C1504.6,739.0 1507.6,746.3 1511.9,750.0 C1515.3,753.0 1520.7,755.7 1523.6,755.2 C1525.6,754.9 1526.6,753.1 1528.0,751.0 C1530.3,747.5 1531.9,741.0 1534.0,735.0 C1536.6,727.5 1539.6,717.4 1542.0,709.6 C1544.0,702.9 1545.7,697.2 1547.5,691.0 C1549.3,684.7 1550.7,678.7 1552.8,672.0 C1555.1,664.4 1558.0,655.4 1560.9,648.0 C1563.5,641.5 1566.5,634.8 1569.0,630.0 C1570.8,626.6 1572.3,624.4 1574.0,621.5 C1575.8,618.4 1577.8,614.8 1579.8,612.0 C1581.5,609.6 1583.2,607.5 1585.0,605.5 C1586.8,603.5 1589.0,601.5 1590.8,599.8 C1592.3,598.4 1593.6,596.9 1595.0,596.0 C1596.2,595.2 1597.4,594.2 1598.6,594.3 C1600.0,594.4 1601.7,596.1 1603.0,597.5 C1604.6,599.2 1606.1,601.5 1607.4,604.2 C1609.1,607.7 1610.1,612.5 1612.0,617.0 C1614.2,622.2 1617.4,633.2 1620.0,633.5 C1621.7,633.7 1623.4,629.7 1625.0,627.5 C1626.8,625.1 1628.0,622.5 1630.0,619.5 C1632.7,615.5 1636.7,610.3 1640.0,605.7 C1643.3,601.1 1646.7,596.5 1650.0,591.9 C1653.3,587.3 1656.9,582.5 1660.0,578.1 C1662.8,574.2 1665.6,569.4 1668.0,567.0 C1669.4,565.5 1670.6,564.6 1672.0,564.0 C1673.3,563.4 1674.4,562.8 1676.1,563.2 C1679.4,563.9 1686.2,573.5 1689.6,573.0 C1692.2,572.6 1693.9,568.6 1695.6,565.5 C1697.8,561.4 1698.9,555.2 1700.5,550.0" stroke="#008000" stroke-width="4.5"/>
<g clip-path="url(#ovR)"><path d="M215.5,592.0 C217.7,592.0 219.7,592.1 222.0,592.0 C224.6,591.8 228.4,589.4 230.5,591.0 C234.3,593.8 233.7,608.9 234.9,618.0 C236.2,627.2 237.0,636.6 238.0,646.0 C239.0,655.5 239.9,665.4 240.8,674.7 C241.6,683.4 242.5,691.2 243.2,700.0 C244.0,709.6 244.6,721.0 245.3,730.0 C245.8,737.3 246.3,742.7 246.8,750.0 C247.4,759.0 247.6,771.0 248.5,780.0 C249.3,787.4 250.0,794.4 251.5,800.0 C252.7,804.3 253.6,808.3 256.0,811.0 C258.2,813.5 262.0,816.2 265.0,816.0 C268.4,815.8 272.5,812.3 275.3,808.7 C279.0,803.9 280.5,795.8 283.3,788.0 C286.9,778.1 291.0,765.4 294.6,754.0 C298.2,742.7 301.2,731.8 304.9,720.0 C309.0,707.0 314.2,692.5 318.0,679.0 C321.7,666.2 324.6,654.8 327.5,641.0 C330.9,624.7 334.3,603.7 336.5,587.4 C338.4,573.8 339.3,562.3 340.5,550.0 C341.6,538.1 342.6,526.6 343.5,515.0 C344.4,503.6 345.2,491.5 346.0,480.9 C346.7,471.7 347.3,463.6 348.0,455.0 C348.7,446.6 349.3,440.5 350.1,430.0 C351.5,412.3 352.6,377.4 355.2,358.4 C356.9,345.7 359.4,336.7 361.5,326.8 C363.4,317.9 364.4,309.2 367.2,301.6 C369.8,294.6 374.2,282.6 377.3,282.6 C379.8,282.6 382.3,290.2 384.2,295.3 C386.7,302.1 387.8,311.2 389.3,320.5 C391.2,331.8 392.4,345.8 394.3,358.4 C396.2,371.0 398.8,386.3 400.6,396.3 C401.8,402.9 402.6,407.1 403.8,412.6 C405.1,418.3 406.4,425.4 408.2,430.0 C409.5,433.2 411.1,434.5 412.6,437.9 C415.0,443.4 417.6,454.0 420.2,460.6 C422.3,465.9 423.8,473.4 426.5,474.5 C428.3,475.2 430.9,473.6 432.8,472.0 C435.7,469.6 438.2,462.2 440.4,459.4 C441.6,457.8 442.8,455.7 443.8,456.0 C445.6,456.5 446.5,466.2 447.5,472.0 C448.7,478.9 449.2,487.7 450.2,495.0 C451.1,501.6 452.2,507.2 453.0,514.0 C453.9,521.8 454.6,531.0 455.3,539.0 C456.0,546.3 456.6,551.6 457.3,560.0 C458.3,572.6 459.1,592.3 460.5,607.4 C461.8,621.2 463.5,633.5 465.3,646.8 C467.2,660.4 468.8,677.6 471.6,688.0 C473.4,694.6 475.2,703.3 477.9,703.7 C480.5,704.0 484.4,696.6 487.4,691.0 C492.0,682.3 496.2,666.4 500.0,654.7 C503.5,643.9 506.7,632.1 509.5,623.2 C511.6,616.5 513.4,605.8 515.0,605.8 C516.1,605.8 517.2,610.6 518.0,615.0 C519.9,625.6 519.5,652.7 520.5,670.5 C521.4,687.0 522.8,702.7 523.7,718.0 C524.6,732.4 525.2,744.4 526.0,760.0 C527.0,779.5 527.9,805.3 529.1,825.8 C530.2,843.8 531.9,861.2 532.8,876.3 C533.6,888.7 533.9,898.7 534.5,910.0 C535.1,921.6 535.5,934.3 536.5,945.0 C537.4,954.1 537.4,963.3 540.0,970.0 C542.1,975.3 546.2,983.2 549.1,983.0 C552.4,982.8 556.2,972.4 558.6,965.2 C561.9,955.6 562.9,940.9 564.5,929.6 C566.0,919.3 566.8,909.3 568.1,900.0 C569.3,891.6 570.7,886.1 572.0,876.3 C574.1,860.3 576.0,834.2 578.3,813.2 C580.6,792.1 583.4,765.1 585.9,750.0 C587.3,741.4 588.8,738.5 590.2,730.0 C592.5,715.6 594.1,688.5 596.5,671.0 C598.4,657.0 600.4,642.9 602.8,633.2 C604.4,626.9 605.2,621.1 607.9,618.0 C609.9,615.7 613.1,613.6 615.5,614.2 C618.7,615.0 621.7,621.7 624.3,626.8 C627.8,633.6 629.8,643.4 633.2,652.1 C636.9,661.5 642.5,681.4 645.8,681.2 C648.6,681.0 650.5,667.1 652.1,658.4 C654.2,647.3 654.8,633.7 655.9,620.0 C657.1,604.4 657.7,590.7 658.8,570.0 C660.6,536.3 663.0,478.3 665.3,437.0 C667.3,401.0 669.5,366.2 671.6,335.8 C673.3,310.8 674.2,293.4 676.6,267.6 C679.8,233.7 683.1,178.6 690.0,150.0 C694.1,132.8 700.8,109.7 705.0,110.0 C710.1,110.4 713.7,147.5 717.0,170.0 C721.2,198.5 722.8,235.4 726.0,267.6 C729.1,299.1 732.5,331.2 736.0,361.0 C739.2,388.5 742.0,416.1 746.0,440.0 C749.4,460.1 752.5,494.1 757.5,495.0 C760.5,495.5 764.7,484.8 767.8,478.0 C771.9,469.0 773.4,455.9 778.2,445.0 C783.3,433.2 791.3,410.8 798.2,410.0 C803.6,409.4 810.2,420.4 814.7,428.0 C820.3,437.3 823.3,450.6 826.9,463.0 C830.9,476.5 833.7,492.3 837.3,506.0 C840.6,518.6 843.6,532.1 847.7,542.0 C850.8,549.5 854.4,557.1 858.1,561.0 C860.4,563.4 862.2,565.3 865.1,565.5 C869.5,565.9 876.8,559.7 882.5,558.0 C887.6,556.5 892.8,554.5 897.7,555.4 C903.0,556.3 908.8,560.4 913.2,564.2 C917.6,568.0 920.2,573.6 924.2,578.0 C928.3,582.5 932.2,588.0 937.5,591.0 C943.1,594.2 950.4,595.3 957.4,596.3 C965.1,597.4 975.7,596.9 982.0,596.6 C986.0,596.4 989.4,594.2 991.7,595.5 C994.1,596.9 994.3,601.7 996.0,605.0 C998.0,608.8 1000.9,612.6 1003.0,617.0 C1005.4,622.1 1007.5,628.5 1009.5,634.0 C1011.3,639.0 1012.9,643.7 1014.5,648.6 C1016.2,653.7 1018.0,658.8 1019.5,664.0 C1021.0,669.3 1022.3,674.3 1023.5,680.2 C1025.0,687.1 1026.3,695.3 1027.5,703.0 C1028.8,711.0 1029.9,718.3 1031.0,727.5 C1032.3,739.1 1032.5,752.9 1034.5,767.0 C1036.8,783.4 1037.0,808.6 1045.0,820.0 C1050.9,828.4 1063.3,837.3 1070.0,835.0 C1078.7,832.1 1083.8,802.6 1088.0,790.0 C1090.9,781.2 1090.3,772.6 1094.0,767.2 C1097.0,762.9 1101.7,759.6 1106.1,758.3 C1110.2,757.0 1116.7,757.0 1119.4,758.9 C1121.6,760.5 1121.3,763.1 1122.7,767.2 C1126.4,778.3 1132.5,813.0 1140.0,830.0 C1145.7,842.9 1152.9,856.6 1160.0,862.0 C1164.3,865.3 1169.7,865.5 1173.4,866.0 C1176.0,866.4 1178.0,866.6 1180.0,866.0 C1181.9,865.4 1183.5,864.1 1185.0,862.6 C1186.8,860.8 1188.5,858.5 1190.0,855.7 C1191.9,852.2 1193.4,847.4 1195.0,843.0 C1196.7,838.4 1198.3,833.4 1200.0,828.6 C1201.7,823.8 1203.3,818.8 1205.0,814.0 C1206.7,809.3 1208.3,804.6 1210.0,800.0 C1211.7,795.4 1213.3,790.9 1215.0,786.4 C1216.7,781.9 1218.3,777.4 1220.0,773.0 C1221.7,768.6 1223.2,763.7 1225.0,759.8 C1226.6,756.4 1227.7,752.9 1230.0,750.7 C1232.1,748.7 1235.1,747.0 1238.0,747.0 C1241.6,747.0 1246.2,750.4 1250.0,752.6 C1253.9,754.8 1257.4,760.3 1261.1,760.0 C1265.4,759.7 1269.7,752.1 1274.2,748.0 C1278.8,743.8 1283.7,739.5 1288.4,735.2 C1293.2,730.9 1298.2,727.3 1302.7,722.4 C1307.7,717.0 1312.2,710.1 1316.9,703.9 C1321.6,697.7 1326.9,691.4 1331.1,685.4 C1334.9,680.1 1338.3,675.6 1341.1,669.8 C1344.2,663.4 1345.9,654.1 1348.2,648.4 C1349.8,644.4 1351.0,640.7 1353.0,638.5 C1354.5,636.9 1356.2,634.8 1358.0,635.3 C1362.2,636.5 1367.5,654.5 1372.0,665.8 C1377.3,679.3 1382.9,697.0 1387.2,711.3 C1391.0,723.9 1393.2,737.3 1396.7,747.3 C1399.3,754.8 1400.8,765.1 1405.2,766.3 C1410.0,767.6 1417.9,752.9 1425.1,752.1 C1432.7,751.3 1443.1,759.5 1450.0,762.7 C1455.0,765.0 1459.3,770.6 1462.8,769.1 C1468.4,766.7 1468.2,742.9 1473.5,733.0 C1477.9,724.7 1485.8,712.0 1490.5,712.5 C1494.9,713.0 1497.5,726.6 1501.2,733.0 C1504.6,739.0 1507.6,746.3 1511.9,750.0 C1515.3,753.0 1520.7,755.7 1523.6,755.2 C1525.6,754.9 1526.6,753.1 1528.0,751.0 C1530.3,747.5 1531.9,741.0 1534.0,735.0 C1536.6,727.5 1539.6,717.4 1542.0,709.6 C1544.0,702.9 1545.7,697.2 1547.5,691.0 C1549.3,684.7 1550.7,678.7 1552.8,672.0 C1555.1,664.4 1558.0,655.4 1560.9,648.0 C1563.5,641.5 1566.5,634.8 1569.0,630.0 C1570.8,626.6 1572.3,624.4 1574.0,621.5 C1575.8,618.4 1577.8,614.8 1579.8,612.0 C1581.5,609.6 1583.2,607.5 1585.0,605.5 C1586.8,603.5 1589.0,601.5 1590.8,599.8 C1592.3,598.4 1593.6,596.9 1595.0,596.0 C1596.2,595.2 1597.4,594.2 1598.6,594.3 C1600.0,594.4 1601.7,596.1 1603.0,597.5 C1604.6,599.2 1606.1,601.5 1607.4,604.2 C1609.1,607.7 1610.1,612.5 1612.0,617.0 C1614.2,622.2 1617.4,633.2 1620.0,633.5 C1621.7,633.7 1623.4,629.7 1625.0,627.5 C1626.8,625.1 1628.0,622.5 1630.0,619.5 C1632.7,615.5 1636.7,610.3 1640.0,605.7 C1643.3,601.1 1646.7,596.5 1650.0,591.9 C1653.3,587.3 1656.9,582.5 1660.0,578.1 C1662.8,574.2 1665.6,569.4 1668.0,567.0 C1669.4,565.5 1670.6,564.6 1672.0,564.0 C1673.3,563.4 1674.4,562.8 1676.1,563.2 C1679.4,563.9 1686.2,573.5 1689.6,573.0 C1692.2,572.6 1693.9,568.6 1695.6,565.5 C1697.8,561.4 1698.9,555.2 1700.5,550.0" stroke="#ff0000" stroke-width="4.5" stroke-opacity="0.45"/></g>
<g clip-path="url(#ovB)"><path d="M215.5,592.0 C217.7,591.7 219.7,591.3 222.0,591.0 C224.6,590.6 228.4,588.4 230.5,590.0 C234.3,592.9 233.6,608.6 234.9,617.9 C236.2,627.2 237.4,636.6 238.5,646.0 C239.6,655.5 240.5,665.4 241.5,674.7 C242.4,683.4 243.2,691.6 244.2,700.0 C245.2,708.4 246.2,716.7 247.5,725.0 C248.8,733.3 250.6,742.1 251.8,750.0 C252.9,757.0 253.3,764.0 254.5,770.0 C255.6,775.1 256.1,780.9 258.4,784.0 C260.1,786.3 262.6,788.5 265.0,788.3 C268.1,788.1 272.2,783.0 275.3,779.0 C279.2,774.0 282.4,766.5 285.5,760.0 C288.7,753.5 291.3,746.7 294.2,740.0 C297.0,733.3 299.8,727.9 302.6,720.0 C306.5,708.9 310.7,692.4 314.3,679.0 C317.7,666.1 320.8,654.8 323.7,641.0 C327.2,624.7 330.8,603.7 333.2,587.4 C335.2,573.8 336.5,562.3 337.8,550.0 C339.1,538.1 339.9,526.6 341.0,515.0 C342.1,503.6 343.2,491.5 344.3,480.9 C345.2,471.7 346.1,463.6 347.0,455.0 C347.9,446.6 348.6,440.1 349.5,430.0 C350.9,414.5 351.4,386.5 353.9,371.0 C355.6,360.8 357.9,351.1 360.2,345.8 C361.4,343.1 362.3,340.4 364.0,340.1 C366.0,339.8 369.5,342.9 371.6,345.8 C374.6,350.0 376.0,357.5 377.9,364.7 C380.3,373.8 382.2,385.6 384.2,396.3 C386.2,407.3 388.2,419.6 389.9,430.0 C391.4,439.0 392.7,447.0 394.0,455.0 C395.2,462.3 395.9,468.6 397.4,475.8 C399.1,483.8 400.7,497.1 403.7,501.0 C405.0,502.8 406.5,503.5 408.2,503.6 C410.5,503.7 413.9,501.8 416.4,499.8 C419.3,497.5 421.7,493.7 424.0,490.0 C426.5,485.9 428.5,481.1 430.5,476.0 C432.8,470.2 434.5,463.3 436.6,456.8 C438.7,450.2 441.1,436.5 443.0,436.6 C444.9,436.7 446.8,449.3 448.0,456.8 C449.5,466.1 449.6,478.5 450.5,488.4 C451.3,497.3 452.2,505.3 453.0,513.7 C453.9,522.1 454.8,531.0 455.6,539.0 C456.3,546.3 456.9,551.6 457.5,560.0 C458.5,572.6 459.1,592.3 460.5,607.4 C461.8,621.2 463.3,634.4 465.3,646.8 C467.1,657.9 468.4,671.6 471.6,678.4 C473.4,682.2 475.7,686.4 477.9,686.3 C480.9,686.1 484.5,676.4 487.4,670.5 C490.9,663.5 493.8,655.3 496.8,646.8 C500.2,637.1 503.2,624.6 506.3,615.3 C508.7,607.9 511.4,595.5 513.4,595.5 C514.9,595.5 516.3,601.8 517.4,607.4 C519.8,620.0 519.4,651.0 520.5,670.5 C521.5,687.5 522.8,702.7 523.7,718.0 C524.6,732.4 525.2,744.4 526.0,760.0 C527.0,779.5 527.9,805.3 529.1,825.8 C530.2,843.8 531.3,861.0 532.8,876.3 C534.1,889.2 535.7,900.5 537.3,911.8 C538.8,922.2 539.7,934.8 542.0,941.5 C543.3,945.3 545.0,949.9 546.7,949.8 C549.2,949.6 552.7,937.1 555.0,929.6 C557.7,920.8 559.1,911.1 560.9,900.0 C563.2,885.8 564.8,867.5 566.9,851.0 C569.0,834.3 571.0,817.3 573.3,800.5 C575.6,783.7 578.8,763.0 580.8,750.0 C582.0,741.8 582.7,738.1 583.9,730.0 C585.7,717.8 588.1,699.5 590.2,683.7 C592.3,667.2 594.0,647.5 596.5,633.2 C598.4,622.5 599.1,612.3 602.8,605.4 C605.5,600.3 610.1,593.8 613.6,594.0 C617.3,594.2 621.5,602.6 624.3,607.9 C627.3,613.5 628.5,620.3 630.6,626.8 C632.8,633.7 634.4,641.1 637.0,648.3 C639.7,655.8 643.9,671.2 646.4,671.0 C649.0,670.8 650.6,655.1 652.1,645.8 C653.9,634.5 654.8,620.5 655.9,607.9 C656.9,595.3 657.4,586.5 658.4,570.0 C660.2,539.1 662.9,478.3 665.3,437.0 C667.4,401.0 669.5,366.2 671.6,335.8 C673.3,310.8 674.2,293.4 676.6,267.6 C679.8,233.7 683.1,178.6 690.0,150.0 C694.1,132.8 701.3,109.6 705.0,110.0 C709.5,110.5 710.6,147.5 713.0,170.0 C716.1,198.6 717.9,235.4 720.9,267.6 C723.9,299.1 727.7,329.2 731.0,361.0 C734.4,394.1 736.7,430.7 741.1,462.2 C745.0,490.1 748.9,539.5 755.0,540.5 C758.3,541.0 763.0,528.2 766.1,520.3 C769.9,510.5 771.6,497.3 774.7,485.5 C778.0,473.0 780.6,458.0 785.2,447.3 C788.9,438.8 793.6,425.7 798.2,425.6 C802.9,425.5 808.9,439.2 813.0,447.3 C817.5,456.1 820.2,466.0 823.4,476.9 C827.2,489.9 830.1,506.7 833.8,520.3 C837.1,532.6 840.6,543.8 844.2,555.0 C847.6,565.7 850.5,578.2 854.7,586.3 C857.8,592.2 860.7,599.1 865.1,600.2 C869.8,601.3 876.5,594.1 882.5,591.5 C888.8,588.8 896.3,583.4 902.1,584.1 C907.1,584.7 911.4,589.5 915.4,593.0 C919.5,596.5 922.5,601.7 926.4,605.1 C929.9,608.2 933.0,611.2 937.5,612.9 C943.0,615.0 950.2,614.7 957.4,615.1 C965.8,615.6 979.3,613.4 985.0,615.1 C987.9,616.0 989.0,617.1 991.0,619.0 C993.8,621.6 997.2,625.9 999.5,630.0 C1002.0,634.4 1003.2,639.7 1005.0,645.0 C1007.0,651.0 1009.3,658.3 1011.0,664.4 C1012.5,669.9 1013.6,674.8 1015.0,680.0 C1016.4,685.3 1018.0,690.4 1019.5,696.0 C1021.1,702.1 1023.0,708.7 1024.5,715.0 C1026.0,721.3 1027.4,726.7 1028.5,733.9 C1029.9,743.4 1029.4,754.8 1031.5,767.0 C1034.2,782.7 1036.9,809.9 1045.0,820.0 C1050.2,826.4 1059.6,832.1 1065.0,830.0 C1072.4,827.1 1076.6,801.6 1080.0,790.0 C1082.5,781.4 1082.3,774.1 1085.1,767.2 C1087.8,760.7 1091.5,752.6 1096.2,749.5 C1100.0,747.0 1105.1,747.6 1109.4,747.3 C1113.5,747.0 1118.1,745.7 1121.6,747.8 C1126.3,750.7 1129.1,758.6 1132.7,767.2 C1138.8,781.9 1143.0,814.8 1150.0,830.0 C1154.5,839.7 1160.0,848.6 1165.0,852.0 C1167.8,853.9 1170.8,854.1 1173.4,853.9 C1175.8,853.7 1178.1,852.6 1180.0,851.3 C1182.0,850.0 1183.4,848.1 1185.0,846.0 C1186.8,843.6 1188.5,840.7 1190.0,837.4 C1191.8,833.5 1193.3,828.4 1195.0,824.0 C1196.7,819.6 1198.4,815.6 1200.0,811.0 C1201.7,806.0 1203.3,800.4 1205.0,795.2 C1206.6,790.2 1208.3,785.3 1210.0,780.5 C1211.6,775.8 1213.3,771.2 1215.0,766.5 C1216.7,761.7 1218.3,756.8 1220.0,752.0 C1221.6,747.3 1223.1,742.0 1225.0,738.2 C1226.5,735.3 1227.8,732.8 1230.0,731.0 C1232.2,729.3 1235.1,727.6 1238.0,727.7 C1241.6,727.9 1246.2,731.5 1250.0,734.0 C1253.9,736.5 1257.3,742.7 1261.1,742.6 C1265.3,742.5 1269.7,734.8 1274.2,731.0 C1278.8,727.1 1283.7,723.4 1288.4,719.6 C1293.2,715.8 1298.2,712.9 1302.7,708.2 C1307.9,702.8 1312.2,694.9 1316.9,688.3 C1321.6,681.7 1327.2,674.9 1331.1,668.4 C1334.6,662.6 1337.1,657.0 1339.7,651.3 C1342.3,645.6 1344.5,639.3 1346.8,634.2 C1348.7,630.0 1350.4,625.8 1352.5,622.8 C1354.1,620.5 1355.9,617.3 1357.8,617.5 C1360.9,617.8 1365.1,627.3 1368.2,633.6 C1372.0,641.5 1374.5,652.5 1377.7,662.0 C1380.9,671.5 1384.2,680.4 1387.2,690.5 C1390.6,701.7 1393.3,716.2 1396.7,726.5 C1399.4,734.5 1401.1,746.0 1405.2,747.3 C1408.5,748.4 1413.7,742.1 1417.5,739.8 C1420.9,737.8 1423.5,734.3 1427.0,734.1 C1431.0,733.8 1436.2,738.1 1440.3,739.8 C1443.8,741.2 1446.6,742.0 1450.0,743.5 C1454.0,745.3 1459.3,751.4 1462.8,749.9 C1468.5,747.4 1468.3,723.7 1473.5,713.6 C1478.0,705.0 1485.8,691.8 1490.5,692.3 C1494.9,692.8 1497.5,707.0 1501.2,713.6 C1504.6,719.7 1507.7,726.7 1511.9,730.7 C1515.4,734.0 1520.8,737.6 1523.6,737.1 C1525.6,736.7 1526.6,734.4 1528.0,732.0 C1530.2,728.1 1531.9,721.3 1534.0,715.0 C1536.6,707.1 1539.5,696.0 1542.0,688.0 C1544.0,681.7 1545.7,676.8 1547.5,671.0 C1549.3,664.9 1550.7,658.5 1552.8,652.0 C1555.1,644.9 1558.0,636.8 1560.9,630.0 C1563.5,623.9 1566.5,617.7 1569.0,613.0 C1570.8,609.5 1572.4,607.1 1574.2,604.2 C1576.0,601.3 1578.1,598.3 1580.0,595.5 C1581.8,592.8 1583.4,590.2 1585.3,587.7 C1587.1,585.3 1589.0,582.9 1591.0,581.0 C1592.7,579.3 1595.0,577.5 1596.4,576.6 C1597.3,576.0 1597.8,575.5 1598.6,575.5 C1599.6,575.5 1601.0,576.6 1602.0,577.5 C1603.2,578.6 1604.2,580.0 1605.2,582.1 C1607.0,585.8 1608.4,593.7 1610.0,598.7 C1611.3,602.8 1612.2,606.7 1614.0,610.0 C1615.6,612.9 1617.9,617.5 1619.8,617.5 C1621.6,617.5 1623.3,613.3 1625.0,611.0 C1626.7,608.6 1628.0,606.2 1630.0,603.3 C1632.7,599.3 1636.7,594.0 1640.0,589.4 C1643.3,584.8 1646.7,580.1 1650.0,575.5 C1653.3,570.9 1656.9,566.0 1660.0,561.6 C1662.8,557.7 1665.7,553.1 1668.0,550.5 C1669.5,548.9 1670.6,547.7 1672.0,547.0 C1673.3,546.3 1674.5,545.7 1676.1,546.0 C1678.6,546.4 1682.6,550.3 1685.1,552.0 C1686.9,553.2 1688.2,555.3 1689.6,555.0 C1691.7,554.5 1693.8,548.3 1695.6,544.5 C1697.5,540.4 1698.9,535.5 1700.5,531.0" stroke="#0000ff" stroke-width="4.5" stroke-opacity="0.45"/></g>
<path d="M214,557.5 L219.5,558 L233.5,589 L234,593 L228,590.5 L222.5,592.5 L219,597.5 L214,600 Z" fill="#006f3c" stroke="none"/>
</g>
<g fill="#262626" font-size="56.5" text-anchor="end" stroke="#fff" stroke-width="0.9">
<text x="197" y="202.2">50.2</text>
<text x="197" y="403.2">50.1</text>
<text x="197" y="604.2">50</text>
<text x="197" y="805.3">49.9</text>
<text x="197" y="1006.3">49.8</text>
</g>
<g fill="#262626" font-size="56.5" text-anchor="middle" stroke="#fff" stroke-width="0.9">
<text x="215.5" y="1157.5">0</text>
<text x="512.4" y="1157.5">20</text>
<text x="809.3" y="1157.5">40</text>
<text x="1106.2" y="1157.5">60</text>
<text x="1403.1" y="1157.5">80</text>
<text x="1700.0" y="1157.5">100</text>
</g>
<text x="964.5" y="1234" fill="#262626" font-size="61.5" text-anchor="middle" stroke="#fff" stroke-width="0.5">Time/s</text>
<text transform="translate(66.4,572.6) rotate(-90)" fill="#262626" font-size="61.5" text-anchor="middle" stroke="#fff" stroke-width="0.5">System frequency/Hz</text>
<rect x="1335" y="109" width="335.5" height="296" fill="#fff" stroke="#9a9a9a" stroke-width="2.6"/>
<line x1="1344" y1="148.0" x2="1406" y2="148.0" stroke="#000" stroke-width="3.2"/>
<text transform="translate(1413.8,170.0) scale(1,1.06)" fill="#000" font-size="54.7" stroke="#fff" stroke-width="0.5">Method 1</text>
<line x1="1344" y1="220.5" x2="1406" y2="220.5" stroke="#ff0000" stroke-width="3.2"/>
<text transform="translate(1413.8,242.5) scale(1,1.06)" fill="#000" font-size="54.7" stroke="#fff" stroke-width="0.5">Method 2</text>
<line x1="1344" y1="293.0" x2="1406" y2="293.0" stroke="#0000ff" stroke-width="3.2"/>
<text transform="translate(1413.8,315.0) scale(1,1.06)" fill="#000" font-size="54.7" stroke="#fff" stroke-width="0.5">Method 3</text>
<line x1="1344" y1="365.0" x2="1406" y2="365.0" stroke="#008000" stroke-width="3.2"/>
<text transform="translate(1413.8,387.0) scale(1,1.06)" fill="#000" font-size="54.7" stroke="#fff" stroke-width="0.5">Method 4</text>
<rect x="554.5" y="12.5" width="446.5" height="255" fill="#fff"/>
<g clip-path="url(#c1)" fill="none" stroke-linejoin="round" stroke-linecap="round">
<path d="M554.4,186.9 L555.9,184.9 L557.4,182.9 L558.9,180.9 L560.4,178.9 L561.9,177.0 L563.4,175.0 L564.9,173.1 L566.4,171.2 L567.9,169.3 L569.4,167.4 L570.9,165.6 L572.4,163.7 L573.9,161.9 L575.4,160.0 L576.9,158.2 L578.4,156.4 L579.9,154.6 L581.4,152.9 L582.9,151.1 L584.4,149.4 L585.9,147.6 L587.4,145.9 L588.9,144.2 L590.4,142.6 L591.9,140.9 L593.4,139.2 L594.9,137.6 L596.4,136.0 L597.9,134.4 L599.4,132.8 L600.9,131.2 L602.4,129.6 L603.9,128.1 L605.4,126.5 L606.9,125.0 L608.4,123.5 L609.9,122.0 L611.4,120.5 L612.9,119.1 L614.4,117.6 L615.9,116.2 L617.4,114.8 L618.9,113.3 L620.4,112.0 L621.9,110.6 L623.4,109.2 L624.9,107.9 L626.4,106.5 L627.9,105.2 L629.4,103.9 L630.9,102.6 L632.4,101.3 L633.9,100.1 L635.4,98.8 L636.9,97.6 L638.4,96.4 L639.9,95.2 L641.4,94.0 L642.9,92.8 L644.4,91.7 L645.9,90.5 L647.4,89.4 L648.9,88.3 L650.4,87.2 L651.9,86.1 L653.4,85.0 L654.9,84.0 L656.4,82.9 L657.9,81.9 L659.4,80.9 L660.9,79.9 L662.4,78.9 L663.9,77.9 L665.4,77.0 L666.9,76.0 L668.4,75.1 L669.9,74.2 L671.4,73.3 L672.9,72.4 L674.4,71.6 L675.9,70.7 L677.4,69.9 L678.9,69.1 L680.4,68.3 L681.9,67.5 L683.4,66.7 L684.9,65.9 L686.4,65.2 L687.9,64.5 L689.4,63.7 L690.9,63.0 L692.4,62.4 L693.9,61.7 L695.4,61.0 L696.9,60.4 L698.4,59.8 L699.9,59.1 L701.4,58.5 L702.9,58.0 L704.4,57.4 L705.9,56.8 L707.4,56.3 L708.9,55.8 L710.4,55.3 L711.9,54.8 L713.4,54.3 L714.9,53.8 L716.4,53.4 L717.9,53.0 L719.4,52.5 L720.9,52.1 L722.4,51.7 L723.9,51.4 L725.4,51.0 L726.9,50.7 L728.4,50.3 L729.9,50.0 L731.4,49.7 L732.9,49.4 L734.4,49.2 L735.9,48.9 L737.4,48.7 L738.9,48.5 L740.4,48.2 L741.9,48.0 L743.4,47.9 L744.9,47.7 L746.4,47.6 L747.9,47.4 L749.4,47.3 L750.9,47.2 L752.4,47.1 L753.9,47.0 L755.4,47.0 L756.9,46.9 L758.4,46.9 L759.9,46.9 L761.4,46.9 L762.9,46.9 L764.4,46.9 L765.9,47.0 L767.4,47.1 L768.9,47.1 L770.4,47.2 L771.9,47.3 L773.4,47.5 L774.9,47.6 L776.4,47.8 L777.9,47.9 L779.4,48.1 L780.9,48.3 L782.4,48.5 L783.9,48.7 L785.4,49.0 L786.9,49.2 L788.4,49.5 L789.9,49.8 L791.4,50.1 L792.9,50.4 L794.4,50.7 L795.9,51.0 L797.4,51.4 L798.9,51.7 L800.4,52.1 L801.9,52.5 L803.4,52.9 L804.9,53.3 L806.4,53.7 L807.9,54.1 L809.4,54.6 L810.9,55.0 L812.4,55.5 L813.9,55.9 L815.4,56.4 L816.9,56.9 L818.4,57.4 L819.9,57.9 L821.4,58.4 L822.9,58.9 L824.4,59.5 L825.9,60.0 L827.4,60.6 L828.9,61.1 L830.4,61.7 L831.9,62.3 L833.4,62.9 L834.9,63.4 L836.4,64.0 L837.9,64.6 L839.4,65.3 L840.9,65.9 L842.4,66.5 L843.9,67.1 L845.4,67.8 L846.9,68.4 L848.4,69.0 L849.9,69.7 L851.4,70.4 L852.9,71.0 L854.4,71.7 L855.9,72.4 L857.4,73.0 L858.9,73.7 L860.4,74.4 L861.9,75.1 L863.4,75.8 L864.9,76.5 L866.4,77.2 L867.9,77.9 L869.4,78.6 L870.9,79.3 L872.4,80.0 L873.9,80.7 L875.4,81.4 L876.9,82.1 L878.4,82.8 L879.9,83.6 L881.4,84.3 L882.9,85.0 L884.4,85.7 L885.9,86.4 L887.4,87.2 L888.9,87.9 L890.4,88.6 L891.9,89.3 L893.4,90.0 L894.9,90.8 L896.4,91.5 L897.9,92.2 L899.4,92.9 L900.9,93.6 L902.4,94.3 L903.9,95.1 L905.4,95.8 L906.9,96.5 L908.4,97.2 L909.9,97.9 L911.4,98.6 L912.9,99.3 L914.4,100.0 L915.9,100.7 L917.4,101.4 L918.9,102.1 L920.4,102.8 L921.9,103.5 L923.4,104.2 L924.9,104.9 L926.4,105.6 L927.9,106.3 L929.4,107.0 L930.9,107.6 L932.4,108.3 L933.9,109.0 L935.4,109.7 L936.9,110.4 L938.4,111.1 L939.9,111.8 L941.4,112.5 L942.9,113.1 L944.4,113.8 L945.9,114.5 L947.4,115.2 L948.9,115.9 L950.4,116.6 L951.9,117.2 L953.4,117.9 L954.9,118.6 L956.4,119.3 L957.9,120.0 L959.4,120.6 L960.9,121.3 L962.4,122.0 L963.9,122.7 L965.4,123.3 L966.9,124.0 L968.4,124.7 L969.9,125.4 L971.4,126.1 L972.9,126.7 L974.4,127.4 L975.9,128.1 L977.4,128.8 L978.9,129.4 L980.4,130.1 L981.9,130.8 L983.4,131.5 L984.9,132.1 L986.4,132.8 L987.9,133.5 L989.4,134.2 L990.9,134.9 L992.4,135.5 L993.9,136.2 L995.4,136.9 L996.9,137.6 L998.4,138.3 L999.9,138.9" stroke="#000" stroke-width="4.2"/>
<path d="M554.4,190.9 L555.9,189.5 L557.4,188.0 L558.9,186.6 L560.4,185.2 L561.9,183.8 L563.4,182.4 L564.9,181.1 L566.4,179.7 L567.9,178.4 L569.4,177.0 L570.9,175.7 L572.4,174.4 L573.9,173.1 L575.4,171.8 L576.9,170.6 L578.4,169.3 L579.9,168.1 L581.4,166.9 L582.9,165.6 L584.4,164.4 L585.9,163.3 L587.4,162.1 L588.9,160.9 L590.4,159.8 L591.9,158.6 L593.4,157.5 L594.9,156.4 L596.4,155.3 L597.9,154.2 L599.4,153.1 L600.9,152.1 L602.4,151.0 L603.9,150.0 L605.4,148.9 L606.9,147.9 L608.4,146.9 L609.9,146.0 L611.4,145.0 L612.9,144.0 L614.4,143.1 L615.9,142.2 L617.4,141.2 L618.9,140.3 L620.4,139.4 L621.9,138.6 L623.4,137.7 L624.9,136.8 L626.4,136.0 L627.9,135.2 L629.4,134.4 L630.9,133.5 L632.4,132.8 L633.9,132.0 L635.4,131.2 L636.9,130.5 L638.4,129.7 L639.9,129.0 L641.4,128.3 L642.9,127.6 L644.4,126.9 L645.9,126.3 L647.4,125.6 L648.9,125.0 L650.4,124.3 L651.9,123.7 L653.4,123.1 L654.9,122.5 L656.4,121.9 L657.9,121.4 L659.4,120.8 L660.9,120.3 L662.4,119.7 L663.9,119.2 L665.4,118.7 L666.9,118.2 L668.4,117.8 L669.9,117.3 L671.4,116.9 L672.9,116.4 L674.4,116.0 L675.9,115.6 L677.4,115.2 L678.9,114.8 L680.4,114.5 L681.9,114.1 L683.4,113.8 L684.9,113.5 L686.4,113.1 L687.9,112.8 L689.4,112.6 L690.9,112.3 L692.4,112.0 L693.9,111.8 L695.4,111.6 L696.9,111.3 L698.4,111.1 L699.9,110.9 L701.4,110.8 L702.9,110.6 L704.4,110.4 L705.9,110.3 L707.4,110.2 L708.9,110.1 L710.4,110.0 L711.9,109.9 L713.4,109.8 L714.9,109.8 L716.4,109.7 L717.9,109.7 L719.4,109.7 L720.9,109.7 L722.4,109.7 L723.9,109.7 L725.4,109.7 L726.9,109.8 L728.4,109.9 L729.9,109.9 L731.4,110.0 L732.9,110.1 L734.4,110.3 L735.9,110.4 L737.4,110.5 L738.9,110.7 L740.4,110.9 L741.9,111.1 L743.4,111.3 L744.9,111.5 L746.4,111.7 L747.9,111.9 L749.4,112.2 L750.9,112.5 L752.4,112.8 L753.9,113.1 L755.4,113.4 L756.9,113.7 L758.4,114.0 L759.9,114.4 L761.4,114.7 L762.9,115.1 L764.4,115.5 L765.9,115.9 L767.4,116.4 L768.9,116.8 L770.4,117.2 L771.9,117.7 L773.4,118.2 L774.9,118.7 L776.4,119.2 L777.9,119.7 L779.4,120.2 L780.9,120.8 L782.4,121.3 L783.9,121.9 L785.4,122.5 L786.9,123.1 L788.4,123.7 L789.9,124.3 L791.4,124.9 L792.9,125.5 L794.4,126.2 L795.9,126.8 L797.4,127.5 L798.9,128.2 L800.4,128.9 L801.9,129.6 L803.4,130.3 L804.9,131.0 L806.4,131.7 L807.9,132.4 L809.4,133.1 L810.9,133.9 L812.4,134.6 L813.9,135.4 L815.4,136.1 L816.9,136.9 L818.4,137.6 L819.9,138.4 L821.4,139.2 L822.9,139.9 L824.4,140.7 L825.9,141.5 L827.4,142.3 L828.9,143.1 L830.4,143.9 L831.9,144.7 L833.4,145.5 L834.9,146.3 L836.4,147.1 L837.9,147.9 L839.4,148.7 L840.9,149.5 L842.4,150.2 L843.9,151.0 L845.4,151.8 L846.9,152.6 L848.4,153.4 L849.9,154.2 L851.4,155.0 L852.9,155.8 L854.4,156.6 L855.9,157.4 L857.4,158.1 L858.9,158.9 L860.4,159.7 L861.9,160.5 L863.4,161.2 L864.9,162.0 L866.4,162.7 L867.9,163.5 L869.4,164.2 L870.9,164.9 L872.4,165.7 L873.9,166.4 L875.4,167.1 L876.9,167.8 L878.4,168.5 L879.9,169.2 L881.4,169.9 L882.9,170.5 L884.4,171.2 L885.9,171.9 L887.4,172.5 L888.9,173.1 L890.4,173.8 L891.9,174.4 L893.4,175.0 L894.9,175.6 L896.4,176.1 L897.9,176.7 L899.4,177.2 L900.9,177.8 L902.4,178.3 L903.9,178.8 L905.4,179.3 L906.9,179.8 L908.4,180.3 L909.9,180.8 L911.4,181.2 L912.9,181.7 L914.4,182.1 L915.9,182.5 L917.4,182.9 L918.9,183.3 L920.4,183.7 L921.9,184.1 L923.4,184.5 L924.9,184.8 L926.4,185.2 L927.9,185.5 L929.4,185.9 L930.9,186.2 L932.4,186.5 L933.9,186.8 L935.4,187.1 L936.9,187.4 L938.4,187.7 L939.9,188.0 L941.4,188.3 L942.9,188.6 L944.4,188.8 L945.9,189.1 L947.4,189.3 L948.9,189.6 L950.4,189.8 L951.9,190.0 L953.4,190.3 L954.9,190.5 L956.4,190.7 L957.9,190.9 L959.4,191.1 L960.9,191.3 L962.4,191.5 L963.9,191.7 L965.4,191.9 L966.9,192.1 L968.4,192.3 L969.9,192.5 L971.4,192.7 L972.9,192.9 L974.4,193.0 L975.9,193.2 L977.4,193.4 L978.9,193.6 L980.4,193.8 L981.9,193.9 L983.4,194.1 L984.9,194.3 L986.4,194.4 L987.9,194.6 L989.4,194.8 L990.9,195.0 L992.4,195.1 L993.9,195.3 L995.4,195.5 L996.9,195.7 L998.4,195.8 L999.9,196.0" stroke="#ff0000" stroke-width="4.2"/>
<path d="M554.4,176.2 L555.9,174.9 L557.4,173.7 L558.9,172.5 L560.4,171.3 L561.9,170.2 L563.4,169.0 L564.9,167.9 L566.4,166.8 L567.9,165.7 L569.4,164.7 L570.9,163.7 L572.4,162.7 L573.9,161.7 L575.4,160.7 L576.9,159.8 L578.4,158.9 L579.9,158.0 L581.4,157.1 L582.9,156.2 L584.4,155.4 L585.9,154.6 L587.4,153.8 L588.9,153.0 L590.4,152.3 L591.9,151.5 L593.4,150.8 L594.9,150.1 L596.4,149.5 L597.9,148.8 L599.4,148.2 L600.9,147.5 L602.4,147.0 L603.9,146.4 L605.4,145.8 L606.9,145.3 L608.4,144.8 L609.9,144.3 L611.4,143.8 L612.9,143.3 L614.4,142.9 L615.9,142.4 L617.4,142.0 L618.9,141.6 L620.4,141.2 L621.9,140.9 L623.4,140.5 L624.9,140.2 L626.4,139.9 L627.9,139.6 L629.4,139.3 L630.9,139.1 L632.4,138.8 L633.9,138.6 L635.4,138.4 L636.9,138.2 L638.4,138.0 L639.9,137.8 L641.4,137.7 L642.9,137.6 L644.4,137.4 L645.9,137.3 L647.4,137.2 L648.9,137.2 L650.4,137.1 L651.9,137.1 L653.4,137.0 L654.9,137.0 L656.4,137.0 L657.9,137.0 L659.4,137.0 L660.9,137.1 L662.4,137.1 L663.9,137.2 L665.4,137.3 L666.9,137.4 L668.4,137.5 L669.9,137.6 L671.4,137.7 L672.9,137.9 L674.4,138.0 L675.9,138.2 L677.4,138.4 L678.9,138.6 L680.4,138.8 L681.9,139.0 L683.4,139.2 L684.9,139.4 L686.4,139.7 L687.9,139.9 L689.4,140.2 L690.9,140.5 L692.4,140.8 L693.9,141.1 L695.4,141.4 L696.9,141.7 L698.4,142.1 L699.9,142.4 L701.4,142.8 L702.9,143.1 L704.4,143.5 L705.9,143.9 L707.4,144.3 L708.9,144.7 L710.4,145.1 L711.9,145.5 L713.4,145.9 L714.9,146.3 L716.4,146.8 L717.9,147.2 L719.4,147.7 L720.9,148.2 L722.4,148.6 L723.9,149.1 L725.4,149.6 L726.9,150.1 L728.4,150.6 L729.9,151.1 L731.4,151.7 L732.9,152.2 L734.4,152.7 L735.9,153.3 L737.4,153.8 L738.9,154.4 L740.4,154.9 L741.9,155.5 L743.4,156.1 L744.9,156.6 L746.4,157.2 L747.9,157.8 L749.4,158.4 L750.9,159.0 L752.4,159.6 L753.9,160.2 L755.4,160.8 L756.9,161.4 L758.4,162.1 L759.9,162.7 L761.4,163.3 L762.9,164.0 L764.4,164.6 L765.9,165.2 L767.4,165.9 L768.9,166.5 L770.4,167.2 L771.9,167.8 L773.4,168.5 L774.9,169.2 L776.4,169.8 L777.9,170.5 L779.4,171.2 L780.9,171.8 L782.4,172.5 L783.9,173.2 L785.4,173.9 L786.9,174.6 L788.4,175.2 L789.9,175.9 L791.4,176.6 L792.9,177.3 L794.4,178.0 L795.9,178.7 L797.4,179.3 L798.9,180.0 L800.4,180.7 L801.9,181.4 L803.4,182.1 L804.9,182.8 L806.4,183.4 L807.9,184.1 L809.4,184.8 L810.9,185.5 L812.4,186.1 L813.9,186.8 L815.4,187.5 L816.9,188.1 L818.4,188.8 L819.9,189.5 L821.4,190.1 L822.9,190.8 L824.4,191.4 L825.9,192.1 L827.4,192.7 L828.9,193.4 L830.4,194.0 L831.9,194.6 L833.4,195.2 L834.9,195.9 L836.4,196.5 L837.9,197.1 L839.4,197.7 L840.9,198.3 L842.4,198.9 L843.9,199.5 L845.4,200.0 L846.9,200.6 L848.4,201.2 L849.9,201.7 L851.4,202.3 L852.9,202.8 L854.4,203.4 L855.9,203.9 L857.4,204.4 L858.9,204.9 L860.4,205.4 L861.9,205.9 L863.4,206.4 L864.9,206.9 L866.4,207.4 L867.9,207.9 L869.4,208.3 L870.9,208.8 L872.4,209.2 L873.9,209.6 L875.4,210.1 L876.9,210.5 L878.4,210.9 L879.9,211.3 L881.4,211.6 L882.9,212.0 L884.4,212.4 L885.9,212.7 L887.4,213.1 L888.9,213.4 L890.4,213.8 L891.9,214.1 L893.4,214.4 L894.9,214.7 L896.4,215.0 L897.9,215.2 L899.4,215.5 L900.9,215.7 L902.4,216.0 L903.9,216.2 L905.4,216.4 L906.9,216.6 L908.4,216.8 L909.9,217.0 L911.4,217.2 L912.9,217.4 L914.4,217.5 L915.9,217.7 L917.4,217.8 L918.9,217.9 L920.4,218.0 L921.9,218.1 L923.4,218.2 L924.9,218.3 L926.4,218.4 L927.9,218.4 L929.4,218.5 L930.9,218.5 L932.4,218.5 L933.9,218.5 L935.4,218.5 L936.9,218.5 L938.4,218.5 L939.9,218.5 L941.4,218.4 L942.9,218.4 L944.4,218.3 L945.9,218.2 L947.4,218.1 L948.9,218.0 L950.4,217.9 L951.9,217.8 L953.4,217.7 L954.9,217.5 L956.4,217.4 L957.9,217.2 L959.4,217.0 L960.9,216.8 L962.4,216.6 L963.9,216.4 L965.4,216.2 L966.9,215.9 L968.4,215.7 L969.9,215.4 L971.4,215.1 L972.9,214.9 L974.4,214.6 L975.9,214.3 L977.4,213.9 L978.9,213.6 L980.4,213.3 L981.9,212.9 L983.4,212.5 L984.9,212.2 L986.4,211.8 L987.9,211.4 L989.4,211.0 L990.9,210.5 L992.4,210.1 L993.9,209.7 L995.4,209.2 L996.9,208.7 L998.4,208.3 L999.9,207.8" stroke="#0000ff" stroke-width="4.2"/>
<path d="M554.4,194.9 L555.9,193.3 L557.4,191.8 L558.9,190.3 L560.4,188.8 L561.9,187.3 L563.4,185.8 L564.9,184.4 L566.4,182.9 L567.9,181.5 L569.4,180.1 L570.9,178.7 L572.4,177.4 L573.9,176.0 L575.4,174.7 L576.9,173.4 L578.4,172.1 L579.9,170.8 L581.4,169.5 L582.9,168.3 L584.4,167.0 L585.9,165.8 L587.4,164.6 L588.9,163.4 L590.4,162.2 L591.9,161.1 L593.4,159.9 L594.9,158.8 L596.4,157.7 L597.9,156.6 L599.4,155.5 L600.9,154.4 L602.4,153.4 L603.9,152.4 L605.4,151.3 L606.9,150.3 L608.4,149.4 L609.9,148.4 L611.4,147.4 L612.9,146.5 L614.4,145.6 L615.9,144.6 L617.4,143.8 L618.9,142.9 L620.4,142.0 L621.9,141.2 L623.4,140.3 L624.9,139.5 L626.4,138.7 L627.9,137.9 L629.4,137.1 L630.9,136.4 L632.4,135.6 L633.9,134.9 L635.4,134.2 L636.9,133.5 L638.4,132.8 L639.9,132.1 L641.4,131.5 L642.9,130.8 L644.4,130.2 L645.9,129.6 L647.4,129.0 L648.9,128.4 L650.4,127.8 L651.9,127.3 L653.4,126.7 L654.9,126.2 L656.4,125.7 L657.9,125.2 L659.4,124.7 L660.9,124.2 L662.4,123.8 L663.9,123.3 L665.4,122.9 L666.9,122.5 L668.4,122.1 L669.9,121.7 L671.4,121.3 L672.9,121.0 L674.4,120.6 L675.9,120.3 L677.4,120.0 L678.9,119.7 L680.4,119.4 L681.9,119.1 L683.4,118.8 L684.9,118.6 L686.4,118.4 L687.9,118.1 L689.4,117.9 L690.9,117.7 L692.4,117.5 L693.9,117.4 L695.4,117.2 L696.9,117.1 L698.4,116.9 L699.9,116.8 L701.4,116.7 L702.9,116.6 L704.4,116.6 L705.9,116.5 L707.4,116.4 L708.9,116.4 L710.4,116.4 L711.9,116.4 L713.4,116.4 L714.9,116.4 L716.4,116.4 L717.9,116.4 L719.4,116.5 L720.9,116.6 L722.4,116.6 L723.9,116.7 L725.4,116.8 L726.9,116.9 L728.4,117.1 L729.9,117.2 L731.4,117.3 L732.9,117.5 L734.4,117.7 L735.9,117.9 L737.4,118.1 L738.9,118.3 L740.4,118.5 L741.9,118.7 L743.4,119.0 L744.9,119.3 L746.4,119.5 L747.9,119.8 L749.4,120.1 L750.9,120.4 L752.4,120.7 L753.9,121.1 L755.4,121.4 L756.9,121.8 L758.4,122.1 L759.9,122.5 L761.4,122.9 L762.9,123.3 L764.4,123.7 L765.9,124.2 L767.4,124.6 L768.9,125.0 L770.4,125.5 L771.9,126.0 L773.4,126.4 L774.9,126.9 L776.4,127.4 L777.9,128.0 L779.4,128.5 L780.9,129.0 L782.4,129.6 L783.9,130.1 L785.4,130.7 L786.9,131.3 L788.4,131.9 L789.9,132.5 L791.4,133.1 L792.9,133.7 L794.4,134.3 L795.9,134.9 L797.4,135.6 L798.9,136.2 L800.4,136.9 L801.9,137.5 L803.4,138.2 L804.9,138.9 L806.4,139.5 L807.9,140.2 L809.4,140.9 L810.9,141.6 L812.4,142.3 L813.9,143.0 L815.4,143.7 L816.9,144.4 L818.4,145.1 L819.9,145.9 L821.4,146.6 L822.9,147.3 L824.4,148.1 L825.9,148.8 L827.4,149.5 L828.9,150.3 L830.4,151.0 L831.9,151.8 L833.4,152.5 L834.9,153.3 L836.4,154.0 L837.9,154.8 L839.4,155.5 L840.9,156.3 L842.4,157.0 L843.9,157.8 L845.4,158.5 L846.9,159.3 L848.4,160.0 L849.9,160.8 L851.4,161.5 L852.9,162.3 L854.4,163.0 L855.9,163.8 L857.4,164.5 L858.9,165.2 L860.4,166.0 L861.9,166.7 L863.4,167.4 L864.9,168.2 L866.4,168.9 L867.9,169.6 L869.4,170.3 L870.9,171.0 L872.4,171.7 L873.9,172.4 L875.4,173.1 L876.9,173.8 L878.4,174.5 L879.9,175.1 L881.4,175.8 L882.9,176.5 L884.4,177.1 L885.9,177.8 L887.4,178.4 L888.9,179.1 L890.4,179.7 L891.9,180.3 L893.4,180.9 L894.9,181.5 L896.4,182.1 L897.9,182.7 L899.4,183.3 L900.9,183.8 L902.4,184.4 L903.9,184.9 L905.4,185.5 L906.9,186.0 L908.4,186.5 L909.9,187.0 L911.4,187.5 L912.9,188.0 L914.4,188.5 L915.9,188.9 L917.4,189.4 L918.9,189.8 L920.4,190.3 L921.9,190.7 L923.4,191.1 L924.9,191.5 L926.4,191.9 L927.9,192.3 L929.4,192.7 L930.9,193.1 L932.4,193.4 L933.9,193.8 L935.4,194.1 L936.9,194.5 L938.4,194.8 L939.9,195.1 L941.4,195.4 L942.9,195.7 L944.4,196.0 L945.9,196.3 L947.4,196.5 L948.9,196.8 L950.4,197.0 L951.9,197.3 L953.4,197.5 L954.9,197.7 L956.4,197.9 L957.9,198.1 L959.4,198.3 L960.9,198.5 L962.4,198.7 L963.9,198.9 L965.4,199.0 L966.9,199.2 L968.4,199.3 L969.9,199.4 L971.4,199.5 L972.9,199.6 L974.4,199.7 L975.9,199.8 L977.4,199.9 L978.9,200.0 L980.4,200.0 L981.9,200.1 L983.4,200.1 L984.9,200.2 L986.4,200.2 L987.9,200.2 L989.4,200.2 L990.9,200.2 L992.4,200.2 L993.9,200.2 L995.4,200.2 L996.9,200.1 L998.4,200.1 L999.9,200.0" stroke="#008000" stroke-width="4.2"/>
</g>
<rect x="552.8" y="10" width="450" height="5.5" fill="#c4c4c4"/>
<rect x="552.8" y="265.5" width="450" height="3" fill="#9a9a9a"/>
<rect x="552.8" y="10" width="3" height="258.5" fill="#8e8e8e"/>
<rect x="999.9" y="10" width="3" height="258.5" fill="#8e8e8e"/>
<g fill="#8e8e8e">
<rect x="555.5" y="255.8" width="5.5" height="2.5"/>
<rect x="994.5" y="255.8" width="5.5" height="2.5"/>
<rect x="555.5" y="157.7" width="5.5" height="2.5"/>
<rect x="994.5" y="157.7" width="5.5" height="2.5"/>
<rect x="555.5" y="59.7" width="5.5" height="2.5"/>
<rect x="994.5" y="59.7" width="5.5" height="2.5"/>
<rect x="642.5" y="15" width="2.5" height="5.5"/>
<rect x="642.5" y="260" width="2.5" height="5.5"/>
<rect x="821.7" y="15" width="2.5" height="5.5"/>
<rect x="821.7" y="260" width="2.5" height="5.5"/>
</g>
<g fill="#262626" font-size="33.5" text-anchor="end" stroke="#fff" stroke-width="0.4">
<text x="540.5" y="75.0">50.2</text>
<text x="540.5" y="173.0">50.1</text>
<text x="540.5" y="271.0">50</text>
</g>
<g fill="#262626" font-size="33.5" text-anchor="middle" stroke="#fff" stroke-width="0.4">
<text x="643.8" y="312.5">10</text>
<text x="822.9" y="312.5">12</text>
<text x="1002.1" y="312.5">14</text>
</g>
<rect x="725.5" y="767" width="448" height="253.5" fill="#fff"/>
<g clip-path="url(#c2)" fill="none" stroke-linejoin="round" stroke-linecap="round">
<path d="M722.0,938.0 C723.1,942.0 723.8,944.3 725.3,950.0 C729.0,963.7 740.2,1008.2 743.5,1020.7 C744.7,1025.3 745.2,1026.9 746.0,1030.0" stroke="#000" stroke-width="3"/>
<path d="M725.5,767.8 L726.0,768.9 L726.5,770.0 L727.0,771.0 L727.5,772.1 L728.0,772.8 L728.5,773.1 L729.0,773.4 L729.5,773.7 L730.0,774.1 L730.5,775.2 L731.0,776.2 L731.5,777.3 L732.0,778.3 L732.5,779.4 L733.0,780.4 L733.5,781.8 L734.0,783.6 L734.5,785.4 L735.0,787.2 L735.5,788.9 L736.0,789.9 L736.5,791.0 L737.0,792.0 L737.5,793.0 L738.0,794.0 L738.5,795.0 L739.0,795.7 L739.5,795.9 L740.0,796.1 L740.5,796.3 L741.0,796.5 L741.5,797.4 L742.0,798.4 L742.5,799.4 L743.0,800.3 L743.5,801.3 L744.0,802.2 L744.5,803.4 L745.0,805.1 L745.5,806.8 L746.0,808.5 L746.5,810.2 L747.0,811.2 L747.5,812.2 L748.0,813.1 L748.5,814.0 L749.0,814.9 L749.5,815.8 L750.0,816.6 L750.5,816.7 L751.0,816.9 L751.5,817.0 L752.0,817.1 L752.5,817.8 L753.0,818.7 L753.5,819.6 L754.0,820.4 L754.5,821.3 L755.0,822.2 L755.5,823.1 L756.0,824.7 L756.5,826.3 L757.0,828.0 L757.5,829.6 L758.0,830.7 L758.5,831.5 L759.0,832.4 L759.5,833.2 L760.0,834.1 L760.5,834.9 L761.0,835.7 L761.5,835.8 L762.0,835.8 L762.5,835.9 L763.0,835.9 L763.5,836.4 L764.0,837.2 L764.5,838.0 L765.0,838.8 L765.5,839.6 L766.0,840.4 L766.5,841.2 L767.0,842.6 L767.5,844.2 L768.0,845.7 L768.5,847.3 L769.0,848.5 L769.5,849.3 L770.0,850.0 L770.5,850.8 L771.0,851.5 L771.5,852.3 L772.0,853.1 L772.5,853.2 L773.0,853.2 L773.5,853.2 L774.0,853.1 L774.5,853.4 L775.0,854.1 L775.5,854.9 L776.0,855.6 L776.5,856.3 L777.0,857.0 L777.5,857.8 L778.0,859.0 L778.5,860.5 L779.0,862.0 L779.5,863.4 L780.0,864.7 L780.5,865.4 L781.0,866.1 L781.5,866.8 L782.0,867.5 L782.5,868.2 L783.0,868.9 L783.5,869.1 L784.0,869.0 L784.5,868.9 L785.0,868.9 L785.5,868.9 L786.0,869.5 L786.5,870.2 L787.0,870.9 L787.5,871.5 L788.0,872.2 L788.5,872.9 L789.0,873.9 L789.5,875.3 L790.0,876.7 L790.5,878.1 L791.0,879.5 L791.5,880.1 L792.0,880.8 L792.5,881.4 L793.0,882.0 L793.5,882.7 L794.0,883.3 L794.5,883.6 L795.0,883.5 L795.5,883.3 L796.0,883.2 L796.5,883.0 L797.0,883.6 L797.5,884.2 L798.0,884.8 L798.5,885.4 L799.0,886.0 L799.5,886.6 L800.0,887.4 L800.5,888.7 L801.0,890.1 L801.5,891.5 L802.0,892.8 L802.5,893.5 L803.0,894.1 L803.5,894.7 L804.0,895.2 L804.5,895.8 L805.0,896.4 L805.5,896.8 L806.0,896.6 L806.5,896.4 L807.0,896.2 L807.5,896.0 L808.0,896.3 L808.5,896.9 L809.0,897.4 L809.5,898.0 L810.0,898.5 L810.5,899.1 L811.0,899.7 L811.5,901.0 L812.0,902.3 L812.5,903.6 L813.0,904.9 L813.5,905.7 L814.0,906.2 L814.5,906.7 L815.0,907.2 L815.5,907.8 L816.0,908.3 L816.5,908.8 L817.0,908.5 L817.5,908.3 L818.0,908.0 L818.5,907.7 L819.0,907.9 L819.5,908.4 L820.0,908.9 L820.5,909.4 L821.0,909.9 L821.5,910.4 L822.0,910.9 L822.5,912.0 L823.0,913.3 L823.5,914.5 L824.0,915.8 L824.5,916.6 L825.0,917.1 L825.5,917.6 L826.0,918.1 L826.5,918.5 L827.0,919.0 L827.5,919.4 L828.0,919.3 L828.5,919.0 L829.0,918.7 L829.5,918.3 L830.0,918.3 L830.5,918.7 L831.0,919.2 L831.5,919.6 L832.0,920.1 L832.5,920.5 L833.0,920.9 L833.5,921.9 L834.0,923.1 L834.5,924.3 L835.0,925.5 L835.5,926.5 L836.0,926.9 L836.5,927.3 L837.0,927.7 L837.5,928.1 L838.0,928.5 L838.5,928.9 L839.0,928.9 L839.5,928.5 L840.0,928.2 L840.5,927.8 L841.0,927.5 L841.5,927.9 L842.0,928.3 L842.5,928.7 L843.0,929.1 L843.5,929.5 L844.0,929.8 L844.5,930.6 L845.0,931.7 L845.5,932.9 L846.0,934.0 L846.5,935.1 L847.0,935.5 L847.5,935.8 L848.0,936.2 L848.5,936.6 L849.0,936.9 L849.5,937.3 L850.0,937.3 L850.5,936.9 L851.0,936.5 L851.5,936.1 L852.0,935.6 L852.5,935.9 L853.0,936.3 L853.5,936.6 L854.0,937.0 L854.5,937.3 L855.0,937.6 L855.5,938.1 L856.0,939.2 L856.5,940.3 L857.0,941.4 L857.5,942.5 L858.0,942.9 L858.5,943.2 L859.0,943.6 L859.5,943.9 L860.0,944.2 L860.5,944.5 L861.0,944.7 L861.5,944.2 L862.0,943.7 L862.5,943.2 L863.0,942.7 L863.5,942.8 L864.0,943.1 L864.5,943.4 L865.0,943.7 L865.5,944.0 L866.0,944.3 L866.5,944.6 L867.0,945.6 L867.5,946.7 L868.0,947.7 L868.5,948.8 L869.0,949.3 L869.5,949.5 L870.0,949.8 L870.5,950.1 L871.0,950.3 L871.5,950.6 L872.0,950.8 L872.5,950.3 L873.0,949.8 L873.5,949.3 L874.0,948.7 L874.5,948.6 L875.0,948.9 L875.5,949.1 L876.0,949.3 L876.5,949.6 L877.0,949.8 L877.5,950.0 L878.0,950.9 L878.5,951.9 L879.0,952.9 L879.5,953.9 L880.0,954.5 L880.5,954.7 L881.0,954.9 L881.5,955.1 L882.0,955.3 L882.5,955.5 L883.0,955.7 L883.5,955.4 L884.0,954.8 L884.5,954.2 L885.0,953.6 L885.5,953.3 L886.0,953.5 L886.5,953.7 L887.0,953.9 L887.5,954.1 L888.0,954.2 L888.5,954.4 L889.0,955.1 L889.5,956.0 L890.0,957.0 L890.5,957.9 L891.0,958.7 L891.5,958.8 L892.0,959.0 L892.5,959.1 L893.0,959.3 L893.5,959.5 L894.0,959.6 L894.5,959.3 L895.0,958.7 L895.5,958.1 L896.0,957.5 L896.5,956.9 L897.0,957.1 L897.5,957.2 L898.0,957.4 L898.5,957.5 L899.0,957.6 L899.5,957.8 L900.0,958.2 L900.5,959.1 L901.0,960.0 L901.5,960.9 L902.0,961.8 L902.5,961.9 L903.0,962.0 L903.5,962.1 L904.0,962.2 L904.5,962.3 L905.0,962.5 L905.5,962.3 L906.0,961.6 L906.5,960.9 L907.0,960.3 L907.5,959.6 L908.0,959.7 L908.5,959.8 L909.0,959.8 L909.5,959.9 L910.0,960.0 L910.5,960.1 L911.0,960.4 L911.5,961.3 L912.0,962.1 L912.5,963.0 L913.0,963.8 L913.5,964.0 L914.0,964.1 L914.5,964.1 L915.0,964.2 L915.5,964.3 L916.0,964.3 L916.5,964.3 L917.0,963.6 L917.5,962.9 L918.0,962.1 L918.5,961.4 L919.0,961.3 L919.5,961.3 L920.0,961.4 L920.5,961.4 L921.0,961.5 L921.5,961.5 L922.0,961.6 L922.5,962.4 L923.0,963.3 L923.5,964.1 L924.0,964.9 L924.5,965.2 L925.0,965.2 L925.5,965.2 L926.0,965.3 L926.5,965.3 L927.0,965.3 L927.5,965.4 L928.0,964.6 L928.5,963.9 L929.0,963.1 L929.5,962.4 L930.0,962.0 L930.5,962.1 L931.0,962.1 L931.5,962.1 L932.0,962.1 L932.5,962.1 L933.0,962.1 L933.5,962.8 L934.0,963.5 L934.5,964.3 L935.0,965.1 L935.5,965.5 L936.0,965.5 L936.5,965.5 L937.0,965.5 L937.5,965.5 L938.0,965.5 L938.5,965.5 L939.0,964.9 L939.5,964.1 L940.0,963.3 L940.5,962.5 L941.0,962.0 L941.5,962.0 L942.0,961.9 L942.5,961.9 L943.0,961.9 L943.5,961.8 L944.0,961.8 L944.5,962.3 L945.0,963.0 L945.5,963.8 L946.0,964.5 L946.5,965.0 L947.0,965.0 L947.5,965.0 L948.0,964.9 L948.5,964.9 L949.0,964.8 L949.5,964.8 L950.0,964.3 L950.5,963.5 L951.0,962.7 L951.5,961.8 L952.0,961.1 L952.5,961.1 L953.0,961.0 L953.5,961.0 L954.0,960.9 L954.5,960.8 L955.0,960.8 L955.5,961.1 L956.0,961.8 L956.5,962.5 L957.0,963.2 L957.5,963.9 L958.0,963.8 L958.5,963.7 L959.0,963.6 L959.5,963.6 L960.0,963.5 L960.5,963.4 L961.0,963.0 L961.5,962.2 L962.0,961.3 L962.5,960.5 L963.0,959.6 L963.5,959.5 L964.0,959.4 L964.5,959.3 L965.0,959.2 L965.5,959.1 L966.0,959.0 L966.5,959.2 L967.0,959.8 L967.5,960.5 L968.0,961.2 L968.5,961.9 L969.0,961.9 L969.5,961.8 L970.0,961.6 L970.5,961.5 L971.0,961.4 L971.5,961.3 L972.0,961.1 L972.5,960.2 L973.0,959.3 L973.5,958.4 L974.0,957.5 L974.5,957.2 L975.0,957.1 L975.5,957.0 L976.0,956.9 L976.5,956.8 L977.0,956.6 L977.5,956.6 L978.0,957.2 L978.5,957.9 L979.0,958.5 L979.5,959.1 L980.0,959.3 L980.5,959.1 L981.0,959.0 L981.5,958.9 L982.0,958.7 L982.5,958.6 L983.0,958.5 L983.5,957.6 L984.0,956.7 L984.5,955.8 L985.0,954.8 L985.5,954.3 L986.0,954.2 L986.5,954.1 L987.0,953.9 L987.5,953.8 L988.0,953.6 L988.5,953.5 L989.0,954.0 L989.5,954.6 L990.0,955.2 L990.5,955.8 L991.0,956.1 L991.5,955.9 L992.0,955.8 L992.5,955.6 L993.0,955.4 L993.5,955.3 L994.0,955.1 L994.5,954.3 L995.0,953.4 L995.5,952.5 L996.0,951.5 L996.5,950.9 L997.0,950.7 L997.5,950.5 L998.0,950.3 L998.5,950.2 L999.0,950.0 L999.5,949.8 L1000.0,950.1 L1000.5,950.7 L1001.0,951.3 L1001.5,951.9 L1002.0,952.3 L1002.5,952.1 L1003.0,952.0 L1003.5,951.8 L1004.0,951.6 L1004.5,951.4 L1005.0,951.2 L1005.5,950.6 L1006.0,949.6 L1006.5,948.7 L1007.0,947.7 L1007.5,946.9 L1008.0,946.7 L1008.5,946.5 L1009.0,946.3 L1009.5,946.1 L1010.0,945.9 L1010.5,945.7 L1011.0,945.8 L1011.5,946.4 L1012.0,947.0 L1012.5,947.6 L1013.0,948.1 L1013.5,947.9 L1014.0,947.7 L1014.5,947.5 L1015.0,947.3 L1015.5,947.1 L1016.0,946.9 L1016.5,946.4 L1017.0,945.4 L1017.5,944.4 L1018.0,943.4 L1018.5,942.5 L1019.0,942.2 L1019.5,942.0 L1020.0,941.8 L1020.5,941.6 L1021.0,941.4 L1021.5,941.2 L1022.0,941.2 L1022.5,941.7 L1023.0,942.3 L1023.5,942.8 L1024.0,943.4 L1024.5,943.3 L1025.0,943.1 L1025.5,942.8 L1026.0,942.6 L1026.5,942.4 L1027.0,942.2 L1027.5,941.8 L1028.0,940.8 L1028.5,939.9 L1029.0,938.9 L1029.5,937.9 L1030.0,937.5 L1030.5,937.2 L1031.0,937.0 L1031.5,936.8 L1032.0,936.6 L1032.5,936.3 L1033.0,936.2 L1033.5,936.7 L1034.0,937.2 L1034.5,937.8 L1035.0,938.3 L1035.5,938.4 L1036.0,938.1 L1036.5,937.9 L1037.0,937.7 L1037.5,937.5 L1038.0,937.2 L1038.5,937.0 L1039.0,936.0 L1039.5,935.0 L1040.0,934.0 L1040.5,933.0 L1041.0,932.4 L1041.5,932.2 L1042.0,932.0 L1042.5,931.7 L1043.0,931.5 L1043.5,931.3 L1044.0,931.0 L1044.5,931.5 L1045.0,932.0 L1045.5,932.5 L1046.0,933.1 L1046.5,933.3 L1047.0,933.0 L1047.5,932.8 L1048.0,932.6 L1048.5,932.3 L1049.0,932.1 L1049.5,931.8 L1050.0,931.0 L1050.5,930.0 L1051.0,929.0 L1051.5,928.0 L1052.0,927.3 L1052.5,927.0 L1053.0,926.8 L1053.5,926.5 L1054.0,926.3 L1054.5,926.1 L1055.0,925.8 L1055.5,926.1 L1056.0,926.6 L1056.5,927.1 L1057.0,927.7 L1057.5,928.0 L1058.0,927.8 L1058.5,927.5 L1059.0,927.3 L1059.5,927.0 L1060.0,926.8 L1060.5,926.5 L1061.0,925.9 L1061.5,924.8 L1062.0,923.8 L1062.5,922.8 L1063.0,921.9 L1063.5,921.7 L1064.0,921.4 L1064.5,921.2 L1065.0,920.9 L1065.5,920.7 L1066.0,920.4 L1066.5,920.5 L1067.0,921.1 L1067.5,921.6 L1068.0,922.1 L1068.5,922.6 L1069.0,922.3 L1069.5,922.1 L1070.0,921.8 L1070.5,921.6 L1071.0,921.3 L1071.5,921.1 L1072.0,920.6 L1072.5,919.5 L1073.0,918.5 L1073.5,917.5 L1074.0,916.5 L1074.5,916.2 L1075.0,915.9 L1075.5,915.7 L1076.0,915.4 L1076.5,915.2 L1077.0,914.9 L1077.5,914.9 L1078.0,915.4 L1078.5,915.9 L1079.0,916.4 L1079.5,916.9 L1080.0,916.8 L1080.5,916.5 L1081.0,916.3 L1081.5,916.0 L1082.0,915.8 L1082.5,915.5 L1083.0,915.1 L1083.5,914.1 L1084.0,913.1 L1084.5,912.1 L1085.0,911.0 L1085.5,910.6 L1086.0,910.3 L1086.5,910.1 L1087.0,909.8 L1087.5,909.5 L1088.0,909.3 L1088.5,909.1 L1089.0,909.6 L1089.5,910.1 L1090.0,910.6 L1090.5,911.1 L1091.0,911.1 L1091.5,910.9 L1092.0,910.6 L1092.5,910.4 L1093.0,910.1 L1093.5,909.8 L1094.0,909.6 L1094.5,908.6 L1095.0,907.5 L1095.5,906.5 L1096.0,905.5 L1096.5,904.9 L1097.0,904.6 L1097.5,904.3 L1098.0,904.1 L1098.5,903.8 L1099.0,903.5 L1099.5,903.3 L1100.0,903.7 L1100.5,904.2 L1101.0,904.7 L1101.5,905.2 L1102.0,905.4 L1102.5,905.1 L1103.0,904.8 L1103.5,904.6 L1104.0,904.3 L1104.5,904.0 L1105.0,903.8 L1105.5,902.9 L1106.0,901.9 L1106.5,900.8 L1107.0,899.8 L1107.5,899.0 L1108.0,898.8 L1108.5,898.5 L1109.0,898.2 L1109.5,898.0 L1110.0,897.7 L1110.5,897.4 L1111.0,897.7 L1111.5,898.2 L1112.0,898.7 L1112.5,899.2 L1113.0,899.5 L1113.5,899.2 L1114.0,899.0 L1114.5,898.7 L1115.0,898.4 L1115.5,898.2 L1116.0,897.9 L1116.5,897.2 L1117.0,896.1 L1117.5,895.1 L1118.0,894.1 L1118.5,893.1 L1119.0,892.9 L1119.5,892.6 L1120.0,892.3 L1120.5,892.1 L1121.0,891.8 L1121.5,891.5 L1122.0,891.6 L1122.5,892.1 L1123.0,892.6 L1123.5,893.1 L1124.0,893.6 L1124.5,893.3 L1125.0,893.0 L1125.5,892.7 L1126.0,892.5 L1126.5,892.2 L1127.0,891.9 L1127.5,891.4 L1128.0,890.3 L1128.5,889.3 L1129.0,888.2 L1129.5,887.2 L1130.0,886.9 L1130.5,886.6 L1131.0,886.3 L1131.5,886.1 L1132.0,885.8 L1132.5,885.5 L1133.0,885.5 L1133.5,886.0 L1134.0,886.5 L1134.5,887.0 L1135.0,887.4 L1135.5,887.3 L1136.0,887.0 L1136.5,886.7 L1137.0,886.5 L1137.5,886.2 L1138.0,885.9 L1138.5,885.5 L1139.0,884.5 L1139.5,883.4 L1140.0,882.4 L1140.5,881.3 L1141.0,880.9 L1141.5,880.6 L1142.0,880.3 L1142.5,880.0 L1143.0,879.8 L1143.5,879.5 L1144.0,879.2 L1144.5,879.7 L1145.0,880.2 L1145.5,880.7 L1146.0,881.2 L1146.5,881.2 L1147.0,880.9 L1147.5,880.7 L1148.0,880.4 L1148.5,880.1 L1149.0,879.8 L1149.5,879.6 L1150.0,878.5 L1150.5,877.5 L1151.0,876.4 L1151.5,875.4 L1152.0,874.8 L1152.5,874.5 L1153.0,874.2 L1153.5,873.9 L1154.0,873.7 L1154.5,873.4 L1155.0,873.1 L1155.5,873.5 L1156.0,874.0 L1156.5,874.5 L1157.0,875.0 L1157.5,875.1 L1158.0,874.8 L1158.5,874.6 L1159.0,874.3 L1159.5,874.0 L1160.0,873.7 L1160.5,873.4 L1161.0,872.6 L1161.5,871.5 L1162.0,870.5 L1162.5,869.4 L1163.0,868.7 L1163.5,868.4 L1164.0,868.1 L1164.5,867.8 L1165.0,867.5 L1165.5,867.3 L1166.0,867.0 L1166.5,867.2 L1167.0,867.7 L1167.5,868.2 L1168.0,868.7 L1168.5,869.0 L1169.0,868.7 L1169.5,868.4 L1170.0,868.1 L1170.5,867.9 L1171.0,867.6 L1171.5,867.3 L1172.0,866.6 L1172.5,865.5 L1173.0,864.5 L1173.5,863.4" stroke="#ff0000" stroke-width="6"/>
<path d="M725.5,765.1 L726.0,766.1 L726.5,767.2 L727.0,767.7 L727.5,768.0 L728.0,768.4 L728.5,768.7 L729.0,769.1 L729.5,769.5 L730.0,769.8 L730.5,769.5 L731.0,769.1 L731.5,768.8 L732.0,768.5 L732.5,768.8 L733.0,769.3 L733.5,769.8 L734.0,770.3 L734.5,770.8 L735.0,771.3 L735.5,771.9 L736.0,773.2 L736.5,774.6 L737.0,775.9 L737.5,777.3 L738.0,778.2 L738.5,778.8 L739.0,779.4 L739.5,780.1 L740.0,780.7 L740.5,781.3 L741.0,782.0 L741.5,781.9 L742.0,781.8 L742.5,781.7 L743.0,781.6 L743.5,782.0 L744.0,782.7 L744.5,783.4 L745.0,784.1 L745.5,784.8 L746.0,785.5 L746.5,786.2 L747.0,787.6 L747.5,789.1 L748.0,790.6 L748.5,792.1 L749.0,793.3 L749.5,794.0 L750.0,794.8 L750.5,795.5 L751.0,796.3 L751.5,797.1 L752.0,797.8 L752.5,798.0 L753.0,798.0 L753.5,798.0 L754.0,798.0 L754.5,798.2 L755.0,799.0 L755.5,799.7 L756.0,800.5 L756.5,801.3 L757.0,802.0 L757.5,802.8 L758.0,804.0 L758.5,805.6 L759.0,807.1 L759.5,808.6 L760.0,810.0 L760.5,810.7 L761.0,811.4 L761.5,812.2 L762.0,812.9 L762.5,813.7 L763.0,814.4 L763.5,814.7 L764.0,814.6 L764.5,814.6 L765.0,814.5 L765.5,814.5 L766.0,815.2 L766.5,815.9 L767.0,816.6 L767.5,817.3 L768.0,818.0 L768.5,818.7 L769.0,819.7 L769.5,821.1 L770.0,822.5 L770.5,824.0 L771.0,825.4 L771.5,826.0 L772.0,826.7 L772.5,827.3 L773.0,828.0 L773.5,828.6 L774.0,829.2 L774.5,829.6 L775.0,829.5 L775.5,829.3 L776.0,829.2 L776.5,829.0 L777.0,829.5 L777.5,830.2 L778.0,830.8 L778.5,831.3 L779.0,831.9 L779.5,832.5 L780.0,833.3 L780.5,834.6 L781.0,836.0 L781.5,837.3 L782.0,838.7 L782.5,839.4 L783.0,839.9 L783.5,840.5 L784.0,841.1 L784.5,841.6 L785.0,842.2 L785.5,842.6 L786.0,842.4 L786.5,842.1 L787.0,841.9 L787.5,841.7 L788.0,842.0 L788.5,842.5 L789.0,843.0 L789.5,843.5 L790.0,844.1 L790.5,844.6 L791.0,845.1 L791.5,846.4 L792.0,847.6 L792.5,848.9 L793.0,850.2 L793.5,851.0 L794.0,851.5 L794.5,851.9 L795.0,852.4 L795.5,852.9 L796.0,853.4 L796.5,853.8 L797.0,853.6 L797.5,853.3 L798.0,853.0 L798.5,852.7 L799.0,852.8 L799.5,853.2 L800.0,853.7 L800.5,854.1 L801.0,854.6 L801.5,855.0 L802.0,855.5 L802.5,856.5 L803.0,857.7 L803.5,858.9 L804.0,860.2 L804.5,861.0 L805.0,861.5 L805.5,861.9 L806.0,862.3 L806.5,862.7 L807.0,863.1 L807.5,863.5 L808.0,863.4 L808.5,863.0 L809.0,862.7 L809.5,862.3 L810.0,862.2 L810.5,862.6 L811.0,863.0 L811.5,863.4 L812.0,863.7 L812.5,864.1 L813.0,864.5 L813.5,865.4 L814.0,866.5 L814.5,867.7 L815.0,868.8 L815.5,869.8 L816.0,870.2 L816.5,870.6 L817.0,870.9 L817.5,871.3 L818.0,871.6 L818.5,872.0 L819.0,872.0 L819.5,871.5 L820.0,871.1 L820.5,870.7 L821.0,870.4 L821.5,870.7 L822.0,871.0 L822.5,871.4 L823.0,871.7 L823.5,872.1 L824.0,872.4 L824.5,873.1 L825.0,874.2 L825.5,875.3 L826.0,876.3 L826.5,877.4 L827.0,877.7 L827.5,878.1 L828.0,878.4 L828.5,878.7 L829.0,879.0 L829.5,879.3 L830.0,879.4 L830.5,878.9 L831.0,878.4 L831.5,878.0 L832.0,877.5 L832.5,877.7 L833.0,878.0 L833.5,878.3 L834.0,878.6 L834.5,878.9 L835.0,879.2 L835.5,879.6 L836.0,880.7 L836.5,881.7 L837.0,882.8 L837.5,883.8 L838.0,884.2 L838.5,884.5 L839.0,884.8 L839.5,885.0 L840.0,885.3 L840.5,885.6 L841.0,885.7 L841.5,885.2 L842.0,884.7 L842.5,884.2 L843.0,883.7 L843.5,883.7 L844.0,884.0 L844.5,884.2 L845.0,884.5 L845.5,884.7 L846.0,884.9 L846.5,885.2 L847.0,886.2 L847.5,887.2 L848.0,888.2 L848.5,889.2 L849.0,889.7 L849.5,890.0 L850.0,890.2 L850.5,890.4 L851.0,890.7 L851.5,890.9 L852.0,891.1 L852.5,890.6 L853.0,890.0 L853.5,889.5 L854.0,888.9 L854.5,888.8 L855.0,889.0 L855.5,889.2 L856.0,889.4 L856.5,889.6 L857.0,889.8 L857.5,890.0 L858.0,890.8 L858.5,891.8 L859.0,892.8 L859.5,893.7 L860.0,894.4 L860.5,894.5 L861.0,894.7 L861.5,894.9 L862.0,895.1 L862.5,895.3 L863.0,895.5 L863.5,895.1 L864.0,894.5 L864.5,893.9 L865.0,893.3 L865.5,893.0 L866.0,893.1 L866.5,893.3 L867.0,893.5 L867.5,893.6 L868.0,893.8 L868.5,894.0 L869.0,894.6 L869.5,895.5 L870.0,896.5 L870.5,897.4 L871.0,898.2 L871.5,898.3 L872.0,898.5 L872.5,898.6 L873.0,898.8 L873.5,898.9 L874.0,899.1 L874.5,898.8 L875.0,898.2 L875.5,897.5 L876.0,896.9 L876.5,896.4 L877.0,896.5 L877.5,896.7 L878.0,896.8 L878.5,896.9 L879.0,897.1 L879.5,897.2 L880.0,897.6 L880.5,898.5 L881.0,899.4 L881.5,900.3 L882.0,901.2 L882.5,901.4 L883.0,901.5 L883.5,901.6 L884.0,901.7 L884.5,901.8 L885.0,902.0 L885.5,901.8 L886.0,901.2 L886.5,900.5 L887.0,899.8 L887.5,899.2 L888.0,899.2 L888.5,899.3 L889.0,899.4 L889.5,899.6 L890.0,899.7 L890.5,899.8 L891.0,900.0 L891.5,900.9 L892.0,901.8 L892.5,902.6 L893.0,903.5 L893.5,903.7 L894.0,903.8 L894.5,903.9 L895.0,904.0 L895.5,904.1 L896.0,904.2 L896.5,904.2 L897.0,903.5 L897.5,902.8 L898.0,902.1 L898.5,901.4 L899.0,901.3 L899.5,901.4 L900.0,901.5 L900.5,901.6 L901.0,901.6 L901.5,901.7 L902.0,901.8 L902.5,902.6 L903.0,903.5 L903.5,904.3 L904.0,905.2 L904.5,905.5 L905.0,905.6 L905.5,905.7 L906.0,905.7 L906.5,905.8 L907.0,905.9 L907.5,905.9 L908.0,905.3 L908.5,904.5 L909.0,903.8 L909.5,903.1 L910.0,902.8 L910.5,902.9 L911.0,902.9 L911.5,903.0 L912.0,903.0 L912.5,903.1 L913.0,903.1 L913.5,903.8 L914.0,904.6 L914.5,905.4 L915.0,906.2 L915.5,906.7 L916.0,906.8 L916.5,906.8 L917.0,906.8 L917.5,906.9 L918.0,906.9 L918.5,906.9 L919.0,906.4 L919.5,905.7 L920.0,904.9 L920.5,904.2 L921.0,903.7 L921.5,903.7 L922.0,903.8 L922.5,903.8 L923.0,903.8 L923.5,903.8 L924.0,903.9 L924.5,904.4 L925.0,905.2 L925.5,905.9 L926.0,906.7 L926.5,907.4 L927.0,907.4 L927.5,907.4 L928.0,907.4 L928.5,907.4 L929.0,907.4 L929.5,907.4 L930.0,907.0 L930.5,906.3 L931.0,905.5 L931.5,904.7 L932.0,904.1 L932.5,904.1 L933.0,904.1 L933.5,904.1 L934.0,904.1 L934.5,904.1 L935.0,904.1 L935.5,904.4 L936.0,905.2 L936.5,905.9 L937.0,906.7 L937.5,907.5 L938.0,907.5 L938.5,907.4 L939.0,907.4 L939.5,907.4 L940.0,907.4 L940.5,907.4 L941.0,907.1 L941.5,906.4 L942.0,905.6 L942.5,904.8 L943.0,904.0 L943.5,903.9 L944.0,903.9 L944.5,903.9 L945.0,903.8 L945.5,903.8 L946.0,903.8 L946.5,903.9 L947.0,904.7 L947.5,905.4 L948.0,906.2 L948.5,906.9 L949.0,907.0 L949.5,907.0 L950.0,907.0 L950.5,906.9 L951.0,906.9 L951.5,906.9 L952.0,906.8 L952.5,905.9 L953.0,905.1 L953.5,904.3 L954.0,903.5 L954.5,903.3 L955.0,903.2 L955.5,903.2 L956.0,903.1 L956.5,903.1 L957.0,903.0 L957.5,903.0 L958.0,903.7 L958.5,904.5 L959.0,905.2 L959.5,905.9 L960.0,906.2 L960.5,906.1 L961.0,906.1 L961.5,906.0 L962.0,905.9 L962.5,905.9 L963.0,905.8 L963.5,905.1 L964.0,904.2 L964.5,903.4 L965.0,902.6 L965.5,902.1 L966.0,902.1 L966.5,902.0 L967.0,902.0 L967.5,901.9 L968.0,901.8 L968.5,901.8 L969.0,902.3 L969.5,903.0 L970.0,903.7 L970.5,904.5 L971.0,904.8 L971.5,904.8 L972.0,904.7 L972.5,904.6 L973.0,904.5 L973.5,904.5 L974.0,904.4 L974.5,903.8 L975.0,902.9 L975.5,902.1 L976.0,901.2 L976.5,900.6 L977.0,900.5 L977.5,900.5 L978.0,900.4 L978.5,900.3 L979.0,900.2 L979.5,900.1 L980.0,900.5 L980.5,901.2 L981.0,901.9 L981.5,902.6 L982.0,903.1 L982.5,903.0 L983.0,902.9 L983.5,902.8 L984.0,902.7 L984.5,902.6 L985.0,902.6 L985.5,902.1 L986.0,901.2 L986.5,900.3 L987.0,899.5 L987.5,898.7 L988.0,898.6 L988.5,898.5 L989.0,898.4 L989.5,898.3 L990.0,898.2 L990.5,898.1 L991.0,898.3 L991.5,899.0 L992.0,899.7 L992.5,900.3 L993.0,901.0 L993.5,900.9 L994.0,900.8 L994.5,900.7 L995.0,900.6 L995.5,900.4 L996.0,900.3 L996.5,900.0 L997.0,899.1 L997.5,898.2 L998.0,897.3 L998.5,896.4 L999.0,896.3 L999.5,896.2 L1000.0,896.0 L1000.5,895.9 L1001.0,895.8 L1001.5,895.7 L1002.0,895.8 L1002.5,896.4 L1003.0,897.1 L1003.5,897.7 L1004.0,898.4 L1004.5,898.4 L1005.0,898.3 L1005.5,898.1 L1006.0,898.0 L1006.5,897.9 L1007.0,897.8 L1007.5,897.6 L1008.0,896.7 L1008.5,895.8 L1009.0,894.9 L1009.5,894.0 L1010.0,893.6 L1010.5,893.5 L1011.0,893.4 L1011.5,893.2 L1012.0,893.1 L1012.5,893.0 L1013.0,892.9 L1013.5,893.5 L1014.0,894.1 L1014.5,894.8 L1015.0,895.4 L1015.5,895.6 L1016.0,895.4 L1016.5,895.3 L1017.0,895.2 L1017.5,895.0 L1018.0,894.9 L1018.5,894.8 L1019.0,893.9 L1019.5,893.0 L1020.0,892.1 L1020.5,891.2 L1021.0,890.7 L1021.5,890.5 L1022.0,890.4 L1022.5,890.2 L1023.0,890.1 L1023.5,889.9 L1024.0,889.8 L1024.5,890.3 L1025.0,890.9 L1025.5,891.5 L1026.0,892.2 L1026.5,892.5 L1027.0,892.3 L1027.5,892.2 L1028.0,892.0 L1028.5,891.9 L1029.0,891.7 L1029.5,891.6 L1030.0,890.9 L1030.5,889.9 L1031.0,889.0 L1031.5,888.1 L1032.0,887.4 L1032.5,887.3 L1033.0,887.1 L1033.5,887.0 L1034.0,886.8 L1034.5,886.6 L1035.0,886.5 L1035.5,886.8 L1036.0,887.4 L1036.5,888.0 L1037.0,888.7 L1037.5,889.1 L1038.0,888.9 L1038.5,888.8 L1039.0,888.6 L1039.5,888.5 L1040.0,888.3 L1040.5,888.1 L1041.0,887.6 L1041.5,886.6 L1042.0,885.7 L1042.5,884.8 L1043.0,883.9 L1043.5,883.8 L1044.0,883.6 L1044.5,883.4 L1045.0,883.3 L1045.5,883.1 L1046.0,882.9 L1046.5,883.1 L1047.0,883.7 L1047.5,884.3 L1048.0,884.9 L1048.5,885.5 L1049.0,885.3 L1049.5,885.2 L1050.0,885.0 L1050.5,884.8 L1051.0,884.6 L1051.5,884.5 L1052.0,884.1 L1052.5,883.1 L1053.0,882.2 L1053.5,881.2 L1054.0,880.3 L1054.5,880.0 L1055.0,879.9 L1055.5,879.7 L1056.0,879.5 L1056.5,879.3 L1057.0,879.2 L1057.5,879.2 L1058.0,879.8 L1058.5,880.3 L1059.0,880.9 L1059.5,881.5 L1060.0,881.5 L1060.5,881.3 L1061.0,881.1 L1061.5,881.0 L1062.0,880.8 L1062.5,880.6 L1063.0,880.3 L1063.5,879.4 L1064.0,878.4 L1064.5,877.5 L1065.0,876.5 L1065.5,876.1 L1066.0,875.9 L1066.5,875.8 L1067.0,875.6 L1067.5,875.4 L1068.0,875.2 L1068.5,875.0 L1069.0,875.6 L1069.5,876.2 L1070.0,876.8 L1070.5,877.4 L1071.0,877.5 L1071.5,877.3 L1072.0,877.1 L1072.5,876.9 L1073.0,876.8 L1073.5,876.6 L1074.0,876.4 L1074.5,875.5 L1075.0,874.5 L1075.5,873.6 L1076.0,872.6 L1076.5,872.0 L1077.0,871.9 L1077.5,871.7 L1078.0,871.5 L1078.5,871.3 L1079.0,871.1 L1079.5,870.9 L1080.0,871.3 L1080.5,871.9 L1081.0,872.5 L1081.5,873.1 L1082.0,873.4 L1082.5,873.2 L1083.0,873.0 L1083.5,872.8 L1084.0,872.6 L1084.5,872.4 L1085.0,872.2 L1085.5,871.4 L1086.0,870.5 L1086.5,869.5 L1087.0,868.5 L1087.5,867.8 L1088.0,867.6 L1088.5,867.4 L1089.0,867.2 L1089.5,867.1 L1090.0,866.9 L1090.5,866.7 L1091.0,866.9 L1091.5,867.5 L1092.0,868.1 L1092.5,868.7 L1093.0,869.1 L1093.5,868.9 L1094.0,868.7 L1094.5,868.5 L1095.0,868.3 L1095.5,868.1 L1096.0,867.9 L1096.5,867.3 L1097.0,866.3 L1097.5,865.4 L1098.0,864.4 L1098.5,863.5 L1099.0,863.3 L1099.5,863.1 L1100.0,862.9 L1100.5,862.7 L1101.0,862.5 L1101.5,862.3 L1102.0,862.4 L1102.5,863.0 L1103.0,863.6 L1103.5,864.2 L1104.0,864.7 L1104.5,864.5 L1105.0,864.3 L1105.5,864.1 L1106.0,863.9 L1106.5,863.7 L1107.0,863.5 L1107.5,863.1 L1108.0,862.1 L1108.5,861.1 L1109.0,860.2 L1109.5,859.2 L1110.0,858.9 L1110.5,858.7 L1111.0,858.5 L1111.5,858.3 L1112.0,858.1 L1112.5,857.9 L1113.0,857.9 L1113.5,858.5 L1114.0,859.0 L1114.5,859.6 L1115.0,860.2 L1115.5,860.1 L1116.0,859.9 L1116.5,859.7 L1117.0,859.5 L1117.5,859.3 L1118.0,859.1 L1118.5,858.8 L1119.0,857.8 L1119.5,856.8 L1120.0,855.9 L1120.5,854.9 L1121.0,854.5 L1121.5,854.3 L1122.0,854.1 L1122.5,853.9 L1123.0,853.7 L1123.5,853.5 L1124.0,853.3 L1124.5,853.9 L1125.0,854.4 L1125.5,855.0 L1126.0,855.6 L1126.5,855.7 L1127.0,855.5 L1127.5,855.2 L1128.0,855.0 L1128.5,854.8 L1129.0,854.6 L1129.5,854.4 L1130.0,853.5 L1130.5,852.5 L1131.0,851.6 L1131.5,850.6 L1132.0,850.0 L1132.5,849.8 L1133.0,849.6 L1133.5,849.4 L1134.0,849.2 L1134.5,849.0 L1135.0,848.8 L1135.5,849.2 L1136.0,849.8 L1136.5,850.4 L1137.0,851.0 L1137.5,851.2 L1138.0,851.0 L1138.5,850.8 L1139.0,850.6 L1139.5,850.4 L1140.0,850.2 L1140.5,850.0 L1141.0,849.2 L1141.5,848.3 L1142.0,847.3 L1142.5,846.3 L1143.0,845.6 L1143.5,845.4 L1144.0,845.2 L1144.5,845.0 L1145.0,844.8 L1145.5,844.6 L1146.0,844.4 L1146.5,844.7 L1147.0,845.2 L1147.5,845.8 L1148.0,846.4 L1148.5,846.8 L1149.0,846.6 L1149.5,846.4 L1150.0,846.2 L1150.5,846.0 L1151.0,845.8 L1151.5,845.6 L1152.0,845.0 L1152.5,844.0 L1153.0,843.0 L1153.5,842.1 L1154.0,841.2 L1154.5,841.0 L1155.0,840.8 L1155.5,840.6 L1156.0,840.4 L1156.5,840.2 L1157.0,840.0 L1157.5,840.1 L1158.0,840.7 L1158.5,841.3 L1159.0,841.8 L1159.5,842.4 L1160.0,842.2 L1160.5,842.0 L1161.0,841.8 L1161.5,841.6 L1162.0,841.4 L1162.5,841.2 L1163.0,840.8 L1163.5,839.8 L1164.0,838.8 L1164.5,837.9 L1165.0,836.9 L1165.5,836.6 L1166.0,836.5 L1166.5,836.3 L1167.0,836.1 L1167.5,835.9 L1168.0,835.7 L1168.5,835.7 L1169.0,836.2 L1169.5,836.8 L1170.0,837.4 L1170.5,838.0 L1171.0,837.9 L1171.5,837.7 L1172.0,837.5 L1172.5,837.3 L1173.0,837.2 L1173.5,837.0" stroke="#0000ff" stroke-width="6"/>
<path d="M725.5,767.1 L726.0,768.2 L726.5,769.2 L727.0,770.3 L727.5,771.4 L728.0,772.4 L728.5,773.5 L729.0,774.2 L729.5,774.5 L730.0,774.8 L730.5,775.0 L731.0,775.3 L731.5,776.3 L732.0,777.3 L732.5,778.3 L733.0,779.3 L733.5,780.3 L734.0,781.3 L734.5,782.5 L735.0,784.3 L735.5,786.1 L736.0,787.8 L736.5,789.6 L737.0,790.7 L737.5,791.6 L738.0,792.6 L738.5,793.6 L739.0,794.5 L739.5,795.5 L740.0,796.3 L740.5,796.5 L741.0,796.7 L741.5,796.9 L742.0,797.0 L742.5,797.8 L743.0,798.7 L743.5,799.6 L744.0,800.5 L744.5,801.5 L745.0,802.4 L745.5,803.3 L746.0,805.0 L746.5,806.7 L747.0,808.3 L747.5,810.0 L748.0,811.2 L748.5,812.1 L749.0,813.0 L749.5,813.8 L750.0,814.7 L750.5,815.6 L751.0,816.4 L751.5,816.6 L752.0,816.7 L752.5,816.8 L753.0,816.8 L753.5,817.3 L754.0,818.2 L754.5,819.0 L755.0,819.9 L755.5,820.7 L756.0,821.5 L756.5,822.3 L757.0,823.8 L757.5,825.4 L758.0,827.0 L758.5,828.6 L759.0,829.8 L759.5,830.6 L760.0,831.4 L760.5,832.2 L761.0,833.0 L761.5,833.8 L762.0,834.6 L762.5,834.8 L763.0,834.8 L763.5,834.8 L764.0,834.8 L764.5,835.0 L765.0,835.8 L765.5,836.6 L766.0,837.3 L766.5,838.1 L767.0,838.8 L767.5,839.6 L768.0,840.8 L768.5,842.3 L769.0,843.8 L769.5,845.3 L770.0,846.6 L770.5,847.4 L771.0,848.1 L771.5,848.8 L772.0,849.5 L772.5,850.2 L773.0,850.9 L773.5,851.2 L774.0,851.1 L774.5,851.1 L775.0,851.0 L775.5,851.0 L776.0,851.7 L776.5,852.4 L777.0,853.0 L777.5,853.7 L778.0,854.4 L778.5,855.1 L779.0,856.1 L779.5,857.5 L780.0,858.9 L780.5,860.3 L781.0,861.7 L781.5,862.4 L782.0,863.0 L782.5,863.7 L783.0,864.3 L783.5,864.9 L784.0,865.6 L784.5,865.9 L785.0,865.8 L785.5,865.6 L786.0,865.5 L786.5,865.3 L787.0,865.9 L787.5,866.5 L788.0,867.1 L788.5,867.7 L789.0,868.3 L789.5,868.9 L790.0,869.7 L790.5,871.0 L791.0,872.4 L791.5,873.7 L792.0,875.1 L792.5,875.8 L793.0,876.4 L793.5,876.9 L794.0,877.5 L794.5,878.1 L795.0,878.6 L795.5,879.1 L796.0,878.9 L796.5,878.6 L797.0,878.4 L797.5,878.2 L798.0,878.5 L798.5,879.1 L799.0,879.6 L799.5,880.1 L800.0,880.7 L800.5,881.2 L801.0,881.7 L801.5,883.0 L802.0,884.3 L802.5,885.6 L803.0,886.9 L803.5,887.7 L804.0,888.2 L804.5,888.7 L805.0,889.2 L805.5,889.7 L806.0,890.2 L806.5,890.7 L807.0,890.4 L807.5,890.1 L808.0,889.9 L808.5,889.6 L809.0,889.7 L809.5,890.2 L810.0,890.6 L810.5,891.1 L811.0,891.6 L811.5,892.0 L812.0,892.5 L812.5,893.6 L813.0,894.8 L813.5,896.0 L814.0,897.3 L814.5,898.1 L815.0,898.6 L815.5,899.0 L816.0,899.5 L816.5,899.9 L817.0,900.3 L817.5,900.7 L818.0,900.6 L818.5,900.2 L819.0,899.9 L819.5,899.5 L820.0,899.4 L820.5,899.9 L821.0,900.3 L821.5,900.7 L822.0,901.1 L822.5,901.5 L823.0,901.9 L823.5,902.8 L824.0,903.9 L824.5,905.1 L825.0,906.3 L825.5,907.2 L826.0,907.6 L826.5,908.0 L827.0,908.4 L827.5,908.7 L828.0,909.1 L828.5,909.5 L829.0,909.4 L829.5,909.0 L830.0,908.6 L830.5,908.2 L831.0,907.9 L831.5,908.3 L832.0,908.6 L832.5,909.0 L833.0,909.3 L833.5,909.7 L834.0,910.0 L834.5,910.7 L835.0,911.8 L835.5,912.9 L836.0,914.0 L836.5,915.1 L837.0,915.4 L837.5,915.7 L838.0,916.0 L838.5,916.4 L839.0,916.7 L839.5,917.0 L840.0,917.1 L840.5,916.6 L841.0,916.1 L841.5,915.7 L842.0,915.2 L842.5,915.4 L843.0,915.7 L843.5,916.0 L844.0,916.3 L844.5,916.6 L845.0,916.9 L845.5,917.4 L846.0,918.5 L846.5,919.5 L847.0,920.6 L847.5,921.6 L848.0,922.0 L848.5,922.3 L849.0,922.6 L849.5,922.8 L850.0,923.1 L850.5,923.4 L851.0,923.5 L851.5,923.0 L852.0,922.5 L852.5,922.0 L853.0,921.5 L853.5,921.5 L854.0,921.8 L854.5,922.0 L855.0,922.3 L855.5,922.5 L856.0,922.7 L856.5,923.0 L857.0,924.0 L857.5,925.0 L858.0,926.0 L858.5,927.1 L859.0,927.6 L859.5,927.8 L860.0,928.0 L860.5,928.2 L861.0,928.5 L861.5,928.7 L862.0,928.9 L862.5,928.4 L863.0,927.8 L863.5,927.3 L864.0,926.7 L864.5,926.6 L865.0,926.8 L865.5,927.0 L866.0,927.2 L866.5,927.4 L867.0,927.6 L867.5,927.8 L868.0,928.6 L868.5,929.6 L869.0,930.5 L869.5,931.5 L870.0,932.1 L870.5,932.3 L871.0,932.5 L871.5,932.7 L872.0,932.8 L872.5,933.0 L873.0,933.2 L873.5,932.8 L874.0,932.2 L874.5,931.6 L875.0,931.0 L875.5,930.7 L876.0,930.8 L876.5,931.0 L877.0,931.1 L877.5,931.3 L878.0,931.5 L878.5,931.6 L879.0,932.3 L879.5,933.2 L880.0,934.1 L880.5,935.0 L881.0,935.8 L881.5,935.9 L882.0,936.1 L882.5,936.2 L883.0,936.4 L883.5,936.5 L884.0,936.6 L884.5,936.4 L885.0,935.7 L885.5,935.1 L886.0,934.4 L886.5,933.9 L887.0,934.0 L887.5,934.2 L888.0,934.3 L888.5,934.4 L889.0,934.5 L889.5,934.6 L890.0,935.1 L890.5,936.0 L891.0,936.9 L891.5,937.8 L892.0,938.6 L892.5,938.7 L893.0,938.8 L893.5,939.0 L894.0,939.1 L894.5,939.2 L895.0,939.3 L895.5,939.1 L896.0,938.4 L896.5,937.8 L897.0,937.1 L897.5,936.4 L898.0,936.5 L898.5,936.5 L899.0,936.6 L899.5,936.7 L900.0,936.8 L900.5,936.9 L901.0,937.2 L901.5,938.0 L902.0,938.9 L902.5,939.7 L903.0,940.6 L903.5,940.8 L904.0,940.9 L904.5,940.9 L905.0,941.0 L905.5,941.1 L906.0,941.1 L906.5,941.1 L907.0,940.4 L907.5,939.7 L908.0,939.0 L908.5,938.3 L909.0,938.1 L909.5,938.2 L910.0,938.2 L910.5,938.3 L911.0,938.3 L911.5,938.4 L912.0,938.5 L912.5,939.3 L913.0,940.1 L913.5,940.9 L914.0,941.8 L914.5,942.1 L915.0,942.1 L915.5,942.2 L916.0,942.2 L916.5,942.2 L917.0,942.3 L917.5,942.3 L918.0,941.6 L918.5,940.9 L919.0,940.1 L919.5,939.4 L920.0,939.1 L920.5,939.1 L921.0,939.1 L921.5,939.2 L922.0,939.2 L922.5,939.2 L923.0,939.2 L923.5,939.9 L924.0,940.7 L924.5,941.5 L925.0,942.3 L925.5,942.7 L926.0,942.7 L926.5,942.7 L927.0,942.7 L927.5,942.7 L928.0,942.7 L928.5,942.7 L929.0,942.2 L929.5,941.4 L930.0,940.6 L930.5,939.9 L931.0,939.4 L931.5,939.4 L932.0,939.3 L932.5,939.3 L933.0,939.3 L933.5,939.3 L934.0,939.3 L934.5,939.8 L935.0,940.6 L935.5,941.3 L936.0,942.1 L936.5,942.7 L937.0,942.6 L937.5,942.6 L938.0,942.6 L938.5,942.6 L939.0,942.6 L939.5,942.5 L940.0,942.1 L940.5,941.3 L941.0,940.5 L941.5,939.7 L942.0,939.0 L942.5,939.0 L943.0,938.9 L943.5,938.9 L944.0,938.9 L944.5,938.8 L945.0,938.8 L945.5,939.1 L946.0,939.8 L946.5,940.6 L947.0,941.3 L947.5,942.0 L948.0,941.9 L948.5,941.9 L949.0,941.9 L949.5,941.8 L950.0,941.8 L950.5,941.7 L951.0,941.4 L951.5,940.6 L952.0,939.7 L952.5,938.9 L953.0,938.1 L953.5,938.0 L954.0,937.9 L954.5,937.9 L955.0,937.8 L955.5,937.7 L956.0,937.7 L956.5,937.8 L957.0,938.5 L957.5,939.2 L958.0,939.9 L958.5,940.6 L959.0,940.7 L959.5,940.6 L960.0,940.5 L960.5,940.5 L961.0,940.4 L961.5,940.3 L962.0,940.1 L962.5,939.3 L963.0,938.4 L963.5,937.6 L964.0,936.7 L964.5,936.4 L965.0,936.4 L965.5,936.3 L966.0,936.2 L966.5,936.1 L967.0,936.0 L967.5,936.0 L968.0,936.6 L968.5,937.3 L969.0,938.0 L969.5,938.7 L970.0,938.9 L970.5,938.8 L971.0,938.7 L971.5,938.6 L972.0,938.5 L972.5,938.4 L973.0,938.3 L973.5,937.5 L974.0,936.6 L974.5,935.7 L975.0,934.8 L975.5,934.4 L976.0,934.3 L976.5,934.2 L977.0,934.1 L977.5,934.0 L978.0,933.8 L978.5,933.7 L979.0,934.3 L979.5,934.9 L980.0,935.6 L980.5,936.2 L981.0,936.6 L981.5,936.4 L982.0,936.3 L982.5,936.2 L983.0,936.1 L983.5,936.0 L984.0,935.9 L984.5,935.2 L985.0,934.3 L985.5,933.4 L986.0,932.5 L986.5,931.8 L987.0,931.7 L987.5,931.6 L988.0,931.5 L988.5,931.3 L989.0,931.2 L989.5,931.1 L990.0,931.4 L990.5,932.1 L991.0,932.7 L991.5,933.3 L992.0,933.8 L992.5,933.7 L993.0,933.5 L993.5,933.4 L994.0,933.2 L994.5,933.1 L995.0,933.0 L995.5,932.4 L996.0,931.5 L996.5,930.6 L997.0,929.7 L997.5,928.8 L998.0,928.7 L998.5,928.6 L999.0,928.4 L999.5,928.3 L1000.0,928.1 L1000.5,928.0 L1001.0,928.1 L1001.5,928.8 L1002.0,929.4 L1002.5,930.0 L1003.0,930.6 L1003.5,930.4 L1004.0,930.3 L1004.5,930.1 L1005.0,930.0 L1005.5,929.8 L1006.0,929.7 L1006.5,929.2 L1007.0,928.3 L1007.5,927.4 L1008.0,926.4 L1008.5,925.5 L1009.0,925.3 L1009.5,925.1 L1010.0,925.0 L1010.5,924.8 L1011.0,924.6 L1011.5,924.5 L1012.0,924.5 L1012.5,925.1 L1013.0,925.7 L1013.5,926.3 L1014.0,926.9 L1014.5,926.8 L1015.0,926.7 L1015.5,926.5 L1016.0,926.3 L1016.5,926.1 L1017.0,926.0 L1017.5,925.7 L1018.0,924.7 L1018.5,923.8 L1019.0,922.8 L1019.5,921.9 L1020.0,921.5 L1020.5,921.3 L1021.0,921.1 L1021.5,921.0 L1022.0,920.8 L1022.5,920.6 L1023.0,920.4 L1023.5,921.0 L1024.0,921.6 L1024.5,922.2 L1025.0,922.8 L1025.5,922.9 L1026.0,922.7 L1026.5,922.5 L1027.0,922.3 L1027.5,922.1 L1028.0,921.9 L1028.5,921.7 L1029.0,920.8 L1029.5,919.9 L1030.0,918.9 L1030.5,917.9 L1031.0,917.4 L1031.5,917.2 L1032.0,917.0 L1032.5,916.8 L1033.0,916.6 L1033.5,916.4 L1034.0,916.2 L1034.5,916.7 L1035.0,917.2 L1035.5,917.8 L1036.0,918.4 L1036.5,918.6 L1037.0,918.4 L1037.5,918.2 L1038.0,918.0 L1038.5,917.8 L1039.0,917.6 L1039.5,917.4 L1040.0,916.6 L1040.5,915.7 L1041.0,914.7 L1041.5,913.7 L1042.0,913.0 L1042.5,912.8 L1043.0,912.6 L1043.5,912.4 L1044.0,912.2 L1044.5,911.9 L1045.0,911.7 L1045.5,912.0 L1046.0,912.6 L1046.5,913.1 L1047.0,913.7 L1047.5,914.1 L1048.0,913.9 L1048.5,913.7 L1049.0,913.4 L1049.5,913.2 L1050.0,913.0 L1050.5,912.8 L1051.0,912.2 L1051.5,911.2 L1052.0,910.2 L1052.5,909.2 L1053.0,908.3 L1053.5,908.1 L1054.0,907.9 L1054.5,907.7 L1055.0,907.5 L1055.5,907.2 L1056.0,907.0 L1056.5,907.1 L1057.0,907.7 L1057.5,908.2 L1058.0,908.8 L1058.5,909.3 L1059.0,909.1 L1059.5,908.9 L1060.0,908.6 L1060.5,908.4 L1061.0,908.2 L1061.5,908.0 L1062.0,907.5 L1062.5,906.5 L1063.0,905.5 L1063.5,904.5 L1064.0,903.5 L1064.5,903.2 L1065.0,903.0 L1065.5,902.8 L1066.0,902.5 L1066.5,902.3 L1067.0,902.1 L1067.5,902.0 L1068.0,902.6 L1068.5,903.1 L1069.0,903.7 L1069.5,904.2 L1070.0,904.1 L1070.5,903.9 L1071.0,903.7 L1071.5,903.4 L1072.0,903.2 L1072.5,903.0 L1073.0,902.6 L1073.5,901.6 L1074.0,900.6 L1074.5,899.6 L1075.0,898.6 L1075.5,898.2 L1076.0,897.9 L1076.5,897.7 L1077.0,897.5 L1077.5,897.2 L1078.0,897.0 L1078.5,896.8 L1079.0,897.3 L1079.5,897.9 L1080.0,898.4 L1080.5,898.9 L1081.0,899.0 L1081.5,898.7 L1082.0,898.5 L1082.5,898.3 L1083.0,898.0 L1083.5,897.8 L1084.0,897.6 L1084.5,896.6 L1085.0,895.6 L1085.5,894.6 L1086.0,893.6 L1086.5,893.0 L1087.0,892.7 L1087.5,892.5 L1088.0,892.3 L1088.5,892.0 L1089.0,891.8 L1089.5,891.5 L1090.0,891.9 L1090.5,892.5 L1091.0,893.0 L1091.5,893.5 L1092.0,893.7 L1092.5,893.5 L1093.0,893.3 L1093.5,893.0 L1094.0,892.8 L1094.5,892.5 L1095.0,892.3 L1095.5,891.5 L1096.0,890.5 L1096.5,889.4 L1097.0,888.4 L1097.5,887.7 L1098.0,887.4 L1098.5,887.2 L1099.0,887.0 L1099.5,886.7 L1100.0,886.5 L1100.5,886.2 L1101.0,886.5 L1101.5,887.0 L1102.0,887.5 L1102.5,888.1 L1103.0,888.4 L1103.5,888.2 L1104.0,887.9 L1104.5,887.7 L1105.0,887.4 L1105.5,887.2 L1106.0,886.9 L1106.5,886.3 L1107.0,885.3 L1107.5,884.3 L1108.0,883.2 L1108.5,882.3 L1109.0,882.1 L1109.5,881.8 L1110.0,881.6 L1110.5,881.3 L1111.0,881.1 L1111.5,880.9 L1112.0,881.0 L1112.5,881.5 L1113.0,882.0 L1113.5,882.5 L1114.0,883.0 L1114.5,882.8 L1115.0,882.5 L1115.5,882.3 L1116.0,882.1 L1116.5,881.8 L1117.0,881.6 L1117.5,881.1 L1118.0,880.0 L1118.5,879.0 L1119.0,878.0 L1119.5,877.0 L1120.0,876.7 L1120.5,876.5 L1121.0,876.2 L1121.5,876.0 L1122.0,875.7 L1122.5,875.5 L1123.0,875.4 L1123.5,876.0 L1124.0,876.5 L1124.5,877.0 L1125.0,877.5 L1125.5,877.4 L1126.0,877.2 L1126.5,876.9 L1127.0,876.7 L1127.5,876.4 L1128.0,876.2 L1128.5,875.8 L1129.0,874.8 L1129.5,873.8 L1130.0,872.8 L1130.5,871.8 L1131.0,871.3 L1131.5,871.1 L1132.0,870.9 L1132.5,870.6 L1133.0,870.4 L1133.5,870.1 L1134.0,869.9 L1134.5,870.5 L1135.0,871.0 L1135.5,871.5 L1136.0,872.0 L1136.5,872.1 L1137.0,871.8 L1137.5,871.6 L1138.0,871.4 L1138.5,871.1 L1139.0,870.9 L1139.5,870.6 L1140.0,869.7 L1140.5,868.7 L1141.0,867.6 L1141.5,866.6 L1142.0,866.0 L1142.5,865.8 L1143.0,865.6 L1143.5,865.3 L1144.0,865.1 L1144.5,864.8 L1145.0,864.6 L1145.5,865.0 L1146.0,865.5 L1146.5,866.1 L1147.0,866.6 L1147.5,866.8 L1148.0,866.6 L1148.5,866.3 L1149.0,866.1 L1149.5,865.9 L1150.0,865.6 L1150.5,865.4 L1151.0,864.6 L1151.5,863.6 L1152.0,862.6 L1152.5,861.6 L1153.0,860.8 L1153.5,860.6 L1154.0,860.4 L1154.5,860.1 L1155.0,859.9 L1155.5,859.7 L1156.0,859.4 L1156.5,859.7 L1157.0,860.2 L1157.5,860.8 L1158.0,861.3 L1158.5,861.7 L1159.0,861.4 L1159.5,861.2 L1160.0,861.0 L1160.5,860.7 L1161.0,860.5 L1161.5,860.3 L1162.0,859.6 L1162.5,858.6 L1163.0,857.6 L1163.5,856.6 L1164.0,855.7 L1164.5,855.5 L1165.0,855.3 L1165.5,855.1 L1166.0,854.8 L1166.5,854.6 L1167.0,854.4 L1167.5,854.5 L1168.0,855.0 L1168.5,855.6 L1169.0,856.1 L1169.5,856.7 L1170.0,856.4 L1170.5,856.2 L1171.0,856.0 L1171.5,855.8 L1172.0,855.5 L1172.5,855.3 L1173.0,854.8 L1173.5,853.8" stroke="#008000" stroke-width="6"/>
</g>
<rect x="724" y="765.5" width="451" height="3" fill="#9a9a9a"/>
<rect x="724" y="1019" width="451" height="3" fill="#9a9a9a"/>
<rect x="724" y="765.5" width="2.6" height="256.5" fill="#8e8e8e"/>
<rect x="1172.2" y="765.5" width="2.6" height="256.5" fill="#8e8e8e"/>
<g fill="#8e8e8e">
<rect x="726.5" y="978.0" width="5" height="2.5"/>
<rect x="1167.5" y="978.0" width="5" height="2.5"/>
<rect x="726.5" y="893.5" width="5" height="2.5"/>
<rect x="1167.5" y="893.5" width="5" height="2.5"/>
<rect x="726.5" y="809.0" width="5" height="2.5"/>
<rect x="1167.5" y="809.0" width="5" height="2.5"/>
<rect x="873.5" y="768.5" width="2.5" height="5"/>
<rect x="873.5" y="1014" width="2.5" height="5"/>
<rect x="1022.8" y="768.5" width="2.5" height="5"/>
<rect x="1022.8" y="1014" width="2.5" height="5"/>
</g>
<g fill="#262626" font-size="33.5" text-anchor="end" stroke="#fff" stroke-width="0.4">
<text x="713" y="822.6">49.92</text>
<text x="713" y="907.1">49.9</text>
<text x="713" y="991.6">49.88</text>
</g>
<g fill="#262626" font-size="33.5" text-anchor="middle" stroke="#fff" stroke-width="0.4">
<text x="725.5" y="1067.3">2</text>
<text x="874.8" y="1067.3">3</text>
<text x="1024.1" y="1067.3">4</text>
<text x="1173.4" y="1067.3">5</text>
</g>
<line x1="510.5" y1="201.0" x2="416.6" y2="296.2" stroke="#000" stroke-width="3.6"/><path d="M401.5,311.5 L412.3,287.7 L425.1,300.4 Z" fill="#000"/>
<line x1="636.5" y1="888.2" x2="313.0" y2="832.7" stroke="#000" stroke-width="3.6"/><path d="M291.8,829.1 L317.5,824.4 L314.4,842.1 Z" fill="#000"/>
</svg></body></html>
